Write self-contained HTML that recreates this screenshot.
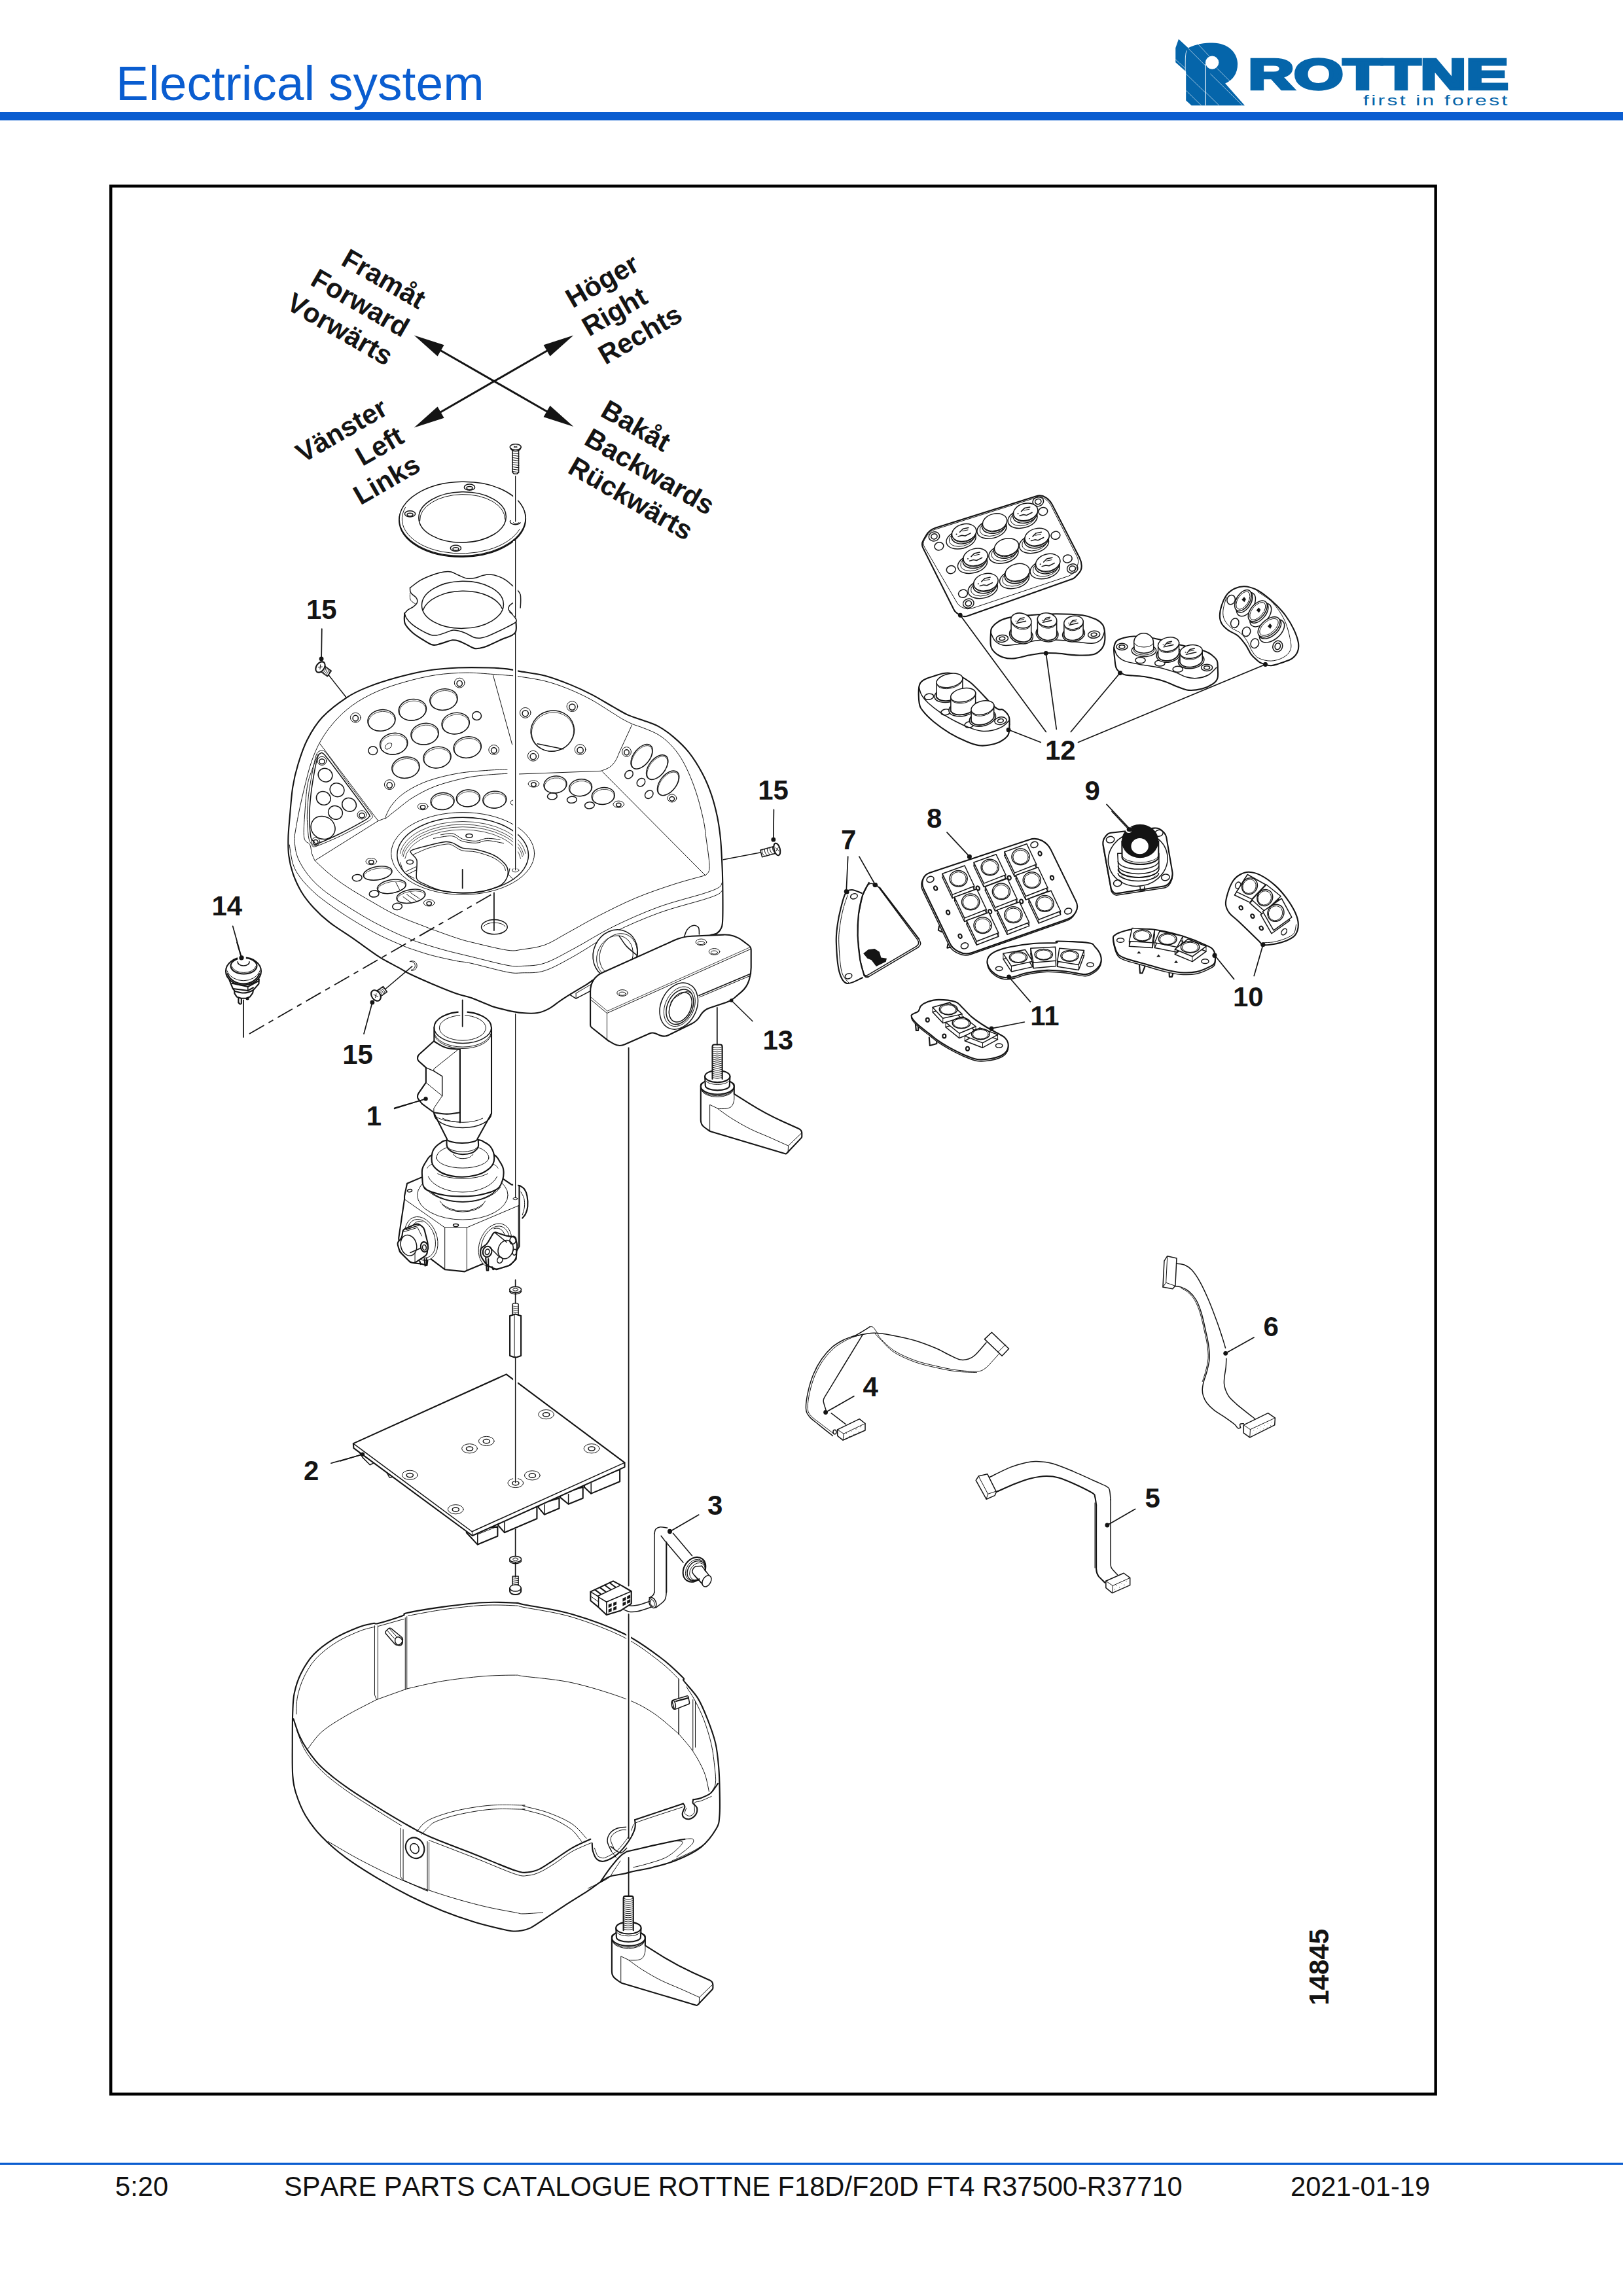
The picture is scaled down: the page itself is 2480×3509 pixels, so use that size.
<!DOCTYPE html>
<html lang="en"><head><meta charset="utf-8"><title>Electrical system - Spare parts catalogue Rottne F18D/F20D</title>
<style>
html,body{margin:0;padding:0;background:#fff}
body{width:2480px;height:3509px;overflow:hidden;font-family:"Liberation Sans",sans-serif}
svg{display:block}
svg text{font-family:"Liberation Sans",sans-serif}
.k,.m,.t,.h{fill:none;stroke:#141414;stroke-linecap:round;stroke-linejoin:round;vector-effect:non-scaling-stroke}
.k{stroke-width:2.1}
.m{stroke-width:1.5}
.t{stroke-width:1}
.h{stroke-width:0.8}
.w{fill:#fff}
.f{fill:#141414;stroke:none}
.lb{font-weight:bold;font-size:42px;fill:#141414}
.dir{font-weight:bold;font-size:41.67px;fill:#141414;font-kerning:none}
.ft{font-size:41.67px;fill:#111;font-kerning:none}
</style></head><body>
<svg width="2480" height="3509" viewBox="0 0 2480 3509">
<!-- header -->
<rect x="0" y="171" width="2480" height="13" fill="#0a5dd0"/>
<text x="177" y="153" font-size="75" fill="#0a5dd0">Electrical system</text>
<!-- frame -->
<rect x="169.3" y="284.4" width="2024.4" height="2916" fill="none" stroke="#000" stroke-width="4.4"/>
<!-- footer -->
<rect x="0" y="3305.5" width="2480" height="3.3" fill="#0a5dd0"/>
<text class="ft" x="176" y="3355.6">5:20</text>
<text class="ft" x="434" y="3355.6">SPARE PARTS CATALOGUE ROTTNE F18D/F20D FT4 R37500-R37710</text>
<text class="ft" x="1972" y="3355.6">2021-01-19</text>

<!-- logo -->
<g transform="translate(1780 40) scale(0.33887)">
<path fill="#0565aa" d="M62,58 L105,98 C140,80 180,75 215,75 C285,75 328,120 328,170 C328,215 305,245 272,258 L360,358 L120,358 L95,335 L95,205 L48,163 L48,98 Z"/>
<circle cx="213" cy="164" r="30" fill="#fff"/>
<rect x="181.5" y="170" width="4" height="188" fill="#fff" opacity="0.85"/>
<path d="M98,110 C92,125 92,140 92,205" stroke="#fff" stroke-width="3" fill="none" opacity="0.8"/>
<g stroke="#fff" stroke-width="2" opacity="0.9" fill="none">
<path d="M105,100 L185,180"/><path d="M150,82 L200,135"/><path d="M235,190 L300,255"/><path d="M205,215 L350,358"/><path d="M95,215 L183,300"/><path d="M95,290 L165,358"/><path d="M48,150 L92,190"/><path d="M186,300 L245,358"/>
</g>
</g>
<text transform="translate(1907.5 135.8) scale(1.487 1)" font-size="65" font-weight="bold" fill="#0565aa" stroke="#0565aa" stroke-width="4.4" stroke-linejoin="miter" style="font-kerning:none">ROTTNE</text>
<text transform="translate(2083 160.6) scale(1.425 1)" font-size="22.5" fill="#0565aa" style="letter-spacing:2.3px">first in forest</text>

<!-- direction arrows -->
<g>
<path class="k" style="stroke-width:3" d="M660,528 L849,636.5 M660,637.5 L849,528.5"/>
<g class="f">
<path transform="translate(632.8 512.5) rotate(29.8)" d="M0,0 L47,-10 L47,10 Z"/>
<path transform="translate(876.3 652) rotate(209.8)" d="M0,0 L47,-10 L47,10 Z"/>
<path transform="translate(632.8 653.5) rotate(-29.8)" d="M0,0 L47,-10 L47,10 Z"/>
<path transform="translate(876.3 512.5) rotate(150.2)" d="M0,0 L47,-10 L47,10 Z"/>
</g>
<g class="dir" transform="translate(614.6 516.5) rotate(30)" text-anchor="end"><text y="-50">Framåt</text><text y="0">Forward</text><text y="50">Vorwärts</text></g>
<g class="dir" transform="translate(900 515) rotate(-30)"><text y="-50">Höger</text><text y="0">Right</text><text y="50">Rechts</text></g>
<g class="dir" transform="translate(620 675.1) rotate(-30)" text-anchor="end"><text y="-50">Vänster</text><text y="0">Left</text><text y="50">Links</text></g>
<g class="dir" transform="translate(890.6 678.1) rotate(30)"><text y="-50">Bakåt</text><text y="0">Backwards</text><text y="50">Rückwärts</text></g>
</g>

<!-- 10_ring -->
<g transform="translate(560 660) scale(0.184843)">
<ellipse class="k w" cx="793" cy="727" rx="522" ry="306" transform="rotate(-1 793 727)"/>
<ellipse class="m w" cx="793" cy="719" rx="522" ry="306" transform="rotate(-1 793 719)"/>
<path class="t" d="M1264.5,807 A500,290 -1 0 1 321.5,625"/>
<ellipse class="m w" cx="793" cy="706" rx="361" ry="209" transform="rotate(-1 793 706)"/>
<path class="t" d="M441.4,735.3 A352,205 -1 1 1 1144.9,723"/>
<ellipse class="m" cx="852" cy="458" rx="44" ry="25"/>
<ellipse class="m" cx="852" cy="464" rx="24" ry="12"/>
<ellipse class="m" cx="360" cy="678" rx="44" ry="25"/>
<ellipse class="m" cx="360" cy="684" rx="24" ry="12"/>
<ellipse class="m" cx="738" cy="962" rx="44" ry="25"/>
<ellipse class="m" cx="738" cy="968" rx="24" ry="12"/>
<path class="m" d="M1271.3,750.6 A44,25 0 0 1 1188.7,733.4"/>
<path class="t" d="M1257.7,749.9 A22,11 0 0 1 1214.3,749.9"/>
<path class="w" d="M315,1500 C315.5,1514.2 307.2,1558.3 318,1585 C328.8,1611.7 356.3,1638.3 380,1660 C403.7,1681.7 433.3,1698.3 460,1715 C486.7,1731.7 518.3,1752.8 540,1760 C561.7,1767.2 571.7,1761.3 590,1758 C608.3,1754.7 630,1746 650,1740 C670,1734 691.7,1724 710,1722 C728.3,1720 741.7,1722.5 760,1728 C778.3,1733.5 798.3,1744.7 820,1755 C841.7,1765.3 870,1784.5 890,1790 C910,1795.5 921.7,1791.3 940,1788 C958.3,1784.7 970,1782.2 1000,1770 C1030,1757.8 1081.7,1733.3 1120,1715 C1158.3,1696.7 1211.3,1689.2 1230,1660 C1248.7,1630.8 1231.7,1560 1232,1540 L1272,1455 L1275,1345 L360,1290 Z" stroke="none"/>
<path class="k" d="M315,1500 C315.5,1514.2 307.2,1558.3 318,1585 C328.8,1611.7 356.3,1638.3 380,1660 C403.7,1681.7 433.3,1698.3 460,1715 C486.7,1731.7 518.3,1752.8 540,1760 C561.7,1767.2 571.7,1761.3 590,1758 C608.3,1754.7 630,1746 650,1740 C670,1734 691.7,1724 710,1722 C728.3,1720 741.7,1722.5 760,1728 C778.3,1733.5 798.3,1744.7 820,1755 C841.7,1765.3 870,1784.5 890,1790 C910,1795.5 921.7,1791.3 940,1788 C958.3,1784.7 970,1782.2 1000,1770 C1030,1757.8 1081.7,1733.3 1120,1715 C1158.3,1696.7 1211.3,1689.2 1230,1660 C1248.7,1630.8 1231.7,1560 1232,1540"/>
<path class="w" d="M360,1290 C375,1279.2 416.7,1243.7 450,1225 C483.3,1206.3 528.3,1189.2 560,1178 C591.7,1166.8 616.7,1161.3 640,1158 C663.3,1154.7 680,1153.5 700,1158 C720,1162.5 738.3,1176 760,1185 C781.7,1194 806.7,1208.2 830,1212 C853.3,1215.8 878.3,1212 900,1208 C921.7,1204 940,1192.7 960,1188 C980,1183.3 998.3,1178.8 1020,1180 C1041.7,1181.2 1068.3,1187.5 1090,1195 C1111.7,1202.5 1131.7,1213.3 1150,1225 C1168.3,1236.7 1183.3,1250.8 1200,1265 C1216.7,1279.2 1238,1296.7 1250,1310 C1262,1323.3 1267.8,1330 1272,1345 C1276.2,1360 1275,1381.7 1275,1400 C1275,1418.3 1272.5,1445.8 1272,1455 L1232,1540 L1232,1540 C1232,1545.8 1250.7,1559.2 1232,1575 C1213.3,1590.8 1158.7,1615.8 1120,1635 C1081.3,1654.2 1030,1678.3 1000,1690 C970,1701.7 958.3,1703.3 940,1705 C921.7,1706.7 910,1706.7 890,1700 C870,1693.3 841.7,1674.2 820,1665 C798.3,1655.8 778.3,1649.2 760,1645 C741.7,1640.8 730,1636.7 710,1640 C690,1643.3 661.7,1658 640,1665 C618.3,1672 598.3,1679.8 580,1682 C561.7,1684.2 551.7,1685 530,1678 C508.3,1671 475.8,1654.7 450,1640 C424.2,1625.3 395,1606.7 375,1590 C355,1573.3 340,1555 330,1540 C320,1525 317.5,1506.7 315,1500 L315,1500 C320,1495 333.3,1478.7 345,1470 C356.7,1461.3 373.3,1456.3 385,1448 C396.7,1439.7 409.2,1429.7 415,1420 C420.8,1410.3 421.7,1399.2 420,1390 C418.3,1380.8 412.5,1373.3 405,1365 C397.5,1356.7 382.2,1347.5 375,1340 C367.8,1332.5 364.5,1328.3 362,1320 C359.5,1311.7 360.3,1295 360,1290 Z" stroke="none"/>
<path class="m" d="M360,1290 C375,1279.2 416.7,1243.7 450,1225 C483.3,1206.3 528.3,1189.2 560,1178 C591.7,1166.8 616.7,1161.3 640,1158 C663.3,1154.7 680,1153.5 700,1158 C720,1162.5 738.3,1176 760,1185 C781.7,1194 806.7,1208.2 830,1212 C853.3,1215.8 878.3,1212 900,1208 C921.7,1204 940,1192.7 960,1188 C980,1183.3 998.3,1178.8 1020,1180 C1041.7,1181.2 1068.3,1187.5 1090,1195 C1111.7,1202.5 1131.7,1213.3 1150,1225 C1168.3,1236.7 1183.3,1250.8 1200,1265 C1216.7,1279.2 1238,1296.7 1250,1310 C1262,1323.3 1267.8,1330 1272,1345 C1276.2,1360 1275,1381.7 1275,1400 C1275,1418.3 1272.5,1445.8 1272,1455"/>
<path class="m" d="M1232,1540 C1232,1545.8 1250.7,1559.2 1232,1575 C1213.3,1590.8 1158.7,1615.8 1120,1635 C1081.3,1654.2 1030,1678.3 1000,1690 C970,1701.7 958.3,1703.3 940,1705 C921.7,1706.7 910,1706.7 890,1700 C870,1693.3 841.7,1674.2 820,1665 C798.3,1655.8 778.3,1649.2 760,1645 C741.7,1640.8 730,1636.7 710,1640 C690,1643.3 661.7,1658 640,1665 C618.3,1672 598.3,1679.8 580,1682 C561.7,1684.2 551.7,1685 530,1678 C508.3,1671 475.8,1654.7 450,1640 C424.2,1625.3 395,1606.7 375,1590 C355,1573.3 340,1555 330,1540 C320,1525 317.5,1506.7 315,1500"/>
<path class="m" d="M315,1500 C320,1495 333.3,1478.7 345,1470 C356.7,1461.3 373.3,1456.3 385,1448 C396.7,1439.7 409.2,1429.7 415,1420 C420.8,1410.3 421.7,1399.2 420,1390 C418.3,1380.8 412.5,1373.3 405,1365 C397.5,1356.7 382.2,1347.5 375,1340 C367.8,1332.5 364.5,1328.3 362,1320 C359.5,1311.7 360.3,1295 360,1290"/>
<path class="t" d="M360,1335 C360.3,1343.3 357.8,1372.5 362,1385 C366.2,1397.5 377.3,1403.3 385,1410 C392.7,1416.7 404.2,1422.5 408,1425"/>
<path class="m" d="M1210,1415 C1205,1419.2 1185.8,1430.8 1180,1440 C1174.2,1449.2 1171.7,1460 1175,1470 C1178.3,1480 1190.5,1488.3 1200,1500 C1209.5,1511.7 1226.7,1533.3 1232,1540"/>
<path class="t" d="M1180,1490 L1200,1505"/>
<ellipse class="m w" cx="795" cy="1430" rx="338" ry="195" transform="rotate(-1 795 1430)"/>
<path class="m" d="M466.9,1473.6 A336,196 -1 0 1 1121.6,1462.2"/>
<g>
<path class="m w" d="M1207,150 L1207,335 L1220,347 L1245,347 L1258,335 L1258,150"/>
<path class="t" d="M1205,175 L1260,183"/>
<path class="t" d="M1205,194 L1260,202"/>
<path class="t" d="M1205,213 L1260,221"/>
<path class="t" d="M1205,232 L1260,240"/>
<path class="t" d="M1205,251 L1260,259"/>
<path class="t" d="M1205,270 L1260,278"/>
<path class="t" d="M1205,289 L1260,297"/>
<path class="t" d="M1205,308 L1260,316"/>
<path class="t" d="M1205,327 L1260,335"/>
<path class="m w" d="M1187,127 C1189.2,130.8 1192.5,144.5 1200,150 C1207.5,155.5 1221.2,160 1232,160 C1242.8,160 1257.3,155.5 1265,150 C1272.7,144.5 1275.8,130.8 1278,127"/>
<ellipse class="m w" cx="1232" cy="125" rx="46" ry="24"/>
<path class="t" d="M1218,118 L1246,132"/>
<path class="t" d="M1246,118 L1218,132"/>
</g>
</g>

<!-- 20_console -->
<g transform="translate(400 960) scale(0.462107)">
<path class="k w" d="M87.5,692.5 C88,671.2 90,652.9 92.5,625 C95,597.1 97.9,554.2 102.5,525 C107.1,495.8 112.1,475.8 120,450 C127.9,424.2 136.7,395.8 150,370 C163.3,344.2 178.3,318.3 200,295 C221.7,271.7 255,246.7 280,230 C305,213.3 321.7,206.2 350,195 C378.3,183.8 416.7,171.7 450,162.5 C483.3,153.3 516.7,145.2 550,140 C583.3,134.8 616.7,132.5 650,131 C683.3,129.5 723.1,130.3 750,131 C776.9,131.7 794.6,133.1 811.5,135 C828.4,136.9 830.7,138.8 851.5,142.5 C872.3,146.2 908.2,150 936.5,157.5 C964.8,165 995.7,177.1 1021.5,187.5 C1047.3,197.9 1068.2,207.9 1091.5,220 C1114.8,232.1 1141.5,248.8 1161.5,260 C1181.5,271.2 1194.8,280 1211.5,287.5 C1228.2,295 1244.8,298.8 1261.5,305 C1278.2,311.2 1294.8,315.8 1311.5,325 C1328.2,334.2 1344.8,345.8 1361.5,360 C1378.2,374.2 1395.7,390 1411.5,410 C1427.3,430 1444,456.7 1456.5,480 C1469,503.3 1478.2,525.8 1486.5,550 C1494.8,574.2 1501.5,601.2 1506.5,625 C1511.5,648.8 1514,668.8 1516.5,692.5 C1519,716.2 1520.2,742.5 1521.5,767.5 C1522.8,792.5 1523.6,810 1524,842.5 C1524.4,875 1524.8,937.5 1524,962.5 C1523.2,987.5 1522.3,984.6 1519,992.5 C1515.7,1000.4 1510.2,1006 1504,1010 C1497.8,1014 1488.6,1011.1 1481.5,1016.5 C1474.4,1021.9 1498.2,1021.5 1461.5,1042.5 C1424.8,1063.5 1311.5,1121.7 1261.5,1142.5 C1211.5,1163.3 1186.5,1165 1161.5,1167.5 C1136.5,1170 1126.5,1155.4 1111.5,1157.5 C1096.5,1159.6 1086.5,1171.2 1071.5,1180 C1056.5,1188.8 1035.7,1201.2 1021.5,1210 C1007.3,1218.8 998.2,1224.6 986.5,1232.5 C974.8,1240.4 964,1250.8 951.5,1257.5 C939,1264.2 926.5,1270 911.5,1272.5 C896.5,1275 878.2,1273.9 861.5,1272.5 C844.8,1271.1 828.4,1267.8 811.5,1264 C794.6,1260.2 779.8,1256.9 760,1250 C740.2,1243.1 711.9,1229.4 692.5,1222.5 C673,1215.6 664.8,1216.2 643.3,1208.5 C621.7,1200.8 589.3,1187.5 563.3,1176.5 C537.3,1165.5 504.6,1150.8 487.3,1142.5 C469.9,1134.2 473.3,1134.2 459.3,1126.5 C445.3,1118.8 417.3,1104.5 403.3,1096.5 C389.3,1088.5 392.6,1090.5 375.3,1078.5 C357.9,1066.5 324.6,1042.2 299.3,1024.5 C273.9,1006.8 244.6,989.2 223.3,972.5 C201.9,955.8 186.6,941.2 171.3,924.5 C155.9,907.8 142.6,891.2 131.3,872.5 C119.9,853.8 110.3,832.5 103.3,812.5 C96.3,792.5 91.9,772.5 89.3,752.5 C86.7,732.5 87,713.8 87.5,692.5 Z"/>
<path class="t" d="M107.5,692.5 C110,678.8 116.6,638.8 122.5,610 C128.4,581.2 135.9,547.8 143,519.5 C150.1,491.2 156.3,464.5 165,440 C173.7,415.5 182.5,394.2 195,372.5 C207.5,350.8 222.5,329.6 240,310 C257.5,290.4 276.7,271.7 300,255 C323.3,238.3 350.8,222.9 380,210 C409.2,197.1 442.5,186.7 475,177.5 C507.5,168.3 541.7,160 575,155 C608.3,150 643.3,147.9 675,147.5 C706.7,147.1 742.2,151.1 765,152.5 C787.8,153.9 797.1,154.8 811.5,156 C825.9,157.2 830.7,156.8 851.5,160 C872.3,163.2 909.8,168.3 936.5,175 C963.2,181.7 986.5,190 1011.5,200 C1036.5,210 1063.2,222.5 1086.5,235 C1109.8,247.5 1134,264.2 1151.5,275 C1169,285.8 1179,292.9 1191.5,300 C1204,307.1 1214.8,312.5 1226.5,317.5 C1238.2,322.5 1247.3,324.2 1261.5,330 C1275.7,335.8 1296.5,343.3 1311.5,352.5 C1326.5,361.7 1339,372.1 1351.5,385 C1364,397.9 1375.7,412.5 1386.5,430 C1397.3,447.5 1407.3,468.3 1416.5,490 C1425.7,511.7 1434,535 1441.5,560 C1449,585 1456.9,617.9 1461.5,640 C1466.1,662.1 1466.1,671.2 1469,692.5 C1471.9,713.8 1477.3,749.2 1479,767.5 C1480.7,785.8 1481.1,794.2 1479,802.5 C1476.9,810.8 1468.6,815 1466.5,817.5"/>
<path class="t" d="M1466.5,817.5 C1449,822.5 1399.8,835 1361.5,847.5 C1323.2,860 1278.2,875 1236.5,892.5 C1194.8,910 1149,933.3 1111.5,952.5 C1074,971.7 1040.7,991.7 1011.5,1007.5 C982.3,1023.3 961.5,1038.3 936.5,1047.5 C911.5,1056.7 882.3,1059.6 861.5,1062.5 C840.7,1065.4 839.7,1069 811.5,1065 C783.3,1061 720.5,1045.2 692.5,1038.5 C664.4,1031.8 662.8,1030.8 643.3,1024.5 C623.7,1018.2 591.9,1006.5 575.3,1000.5 C558.6,994.5 565.3,997.2 543.3,988.5 C521.3,979.8 473.3,962.5 443.3,948.5 C413.3,934.5 389.9,919.8 363.3,904.5 C336.6,889.2 306.6,871.8 283.3,856.5 C259.9,841.2 241.3,827.2 223.3,812.5 C205.3,797.8 183.3,775.8 175.3,768.5"/>
<path class="t" d="M1522,842 C1521.9,842.1 1523.2,839.9 1521.5,842.5 C1519.8,845.1 1521.5,851.7 1511.5,857.5 C1501.5,863.3 1494.8,866.7 1461.5,877.5 C1428.2,888.3 1361.5,904.2 1311.5,922.5 C1261.5,940.8 1207.3,965 1161.5,987.5 C1115.7,1010 1074,1037.5 1036.5,1057.5 C999,1077.5 965.7,1097.5 936.5,1107.5 C907.3,1117.5 882.3,1116.2 861.5,1117.5 C840.7,1118.8 839.7,1120.2 811.5,1115 C783.3,1109.8 727.2,1094.9 692.5,1086.5 C657.8,1078.1 631.5,1072.2 603.3,1064.5 C575.1,1056.8 541.9,1046.5 523.3,1040.5 C504.6,1034.5 504.6,1033.8 491.3,1028.5 C477.9,1023.2 464.6,1018.5 443.3,1008.5 C421.9,998.5 389.9,983.2 363.3,968.5 C336.6,953.8 308.6,936.5 283.3,920.5 C257.9,904.5 231.3,887.8 211.3,872.5 C191.3,857.2 176.9,843.8 163.3,828.5 C149.6,813.2 137.6,795.2 129.3,780.5 C120.9,765.8 116.9,755.2 113.3,740.5 C109.6,725.8 108.3,700.5 107.3,692.5"/>
<path class="t" d="M1522,868 C1519.8,870 1519.1,875.1 1509,880 C1498.9,884.9 1494.4,887.1 1461.5,897.5 C1428.6,907.9 1361.5,924.2 1311.5,942.5 C1261.5,960.8 1207.3,984.2 1161.5,1007.5 C1115.7,1030.8 1074,1061.7 1036.5,1082.5 C999,1103.3 965.7,1122.9 936.5,1132.5 C907.3,1142.1 882.3,1139.2 861.5,1140 C840.7,1140.8 839.7,1142.8 811.5,1137.5 C783.3,1132.2 720.5,1114.7 692.5,1108.5 C664.4,1102.3 664.8,1104.8 643.3,1100.5 C621.7,1096.2 587.3,1088.8 563.3,1082.5 C539.3,1076.2 515.3,1067.8 499.3,1062.5 C483.3,1057.2 486.6,1058.8 467.3,1050.5 C447.9,1042.2 411.3,1026.8 383.3,1012.5 C355.3,998.2 325.3,980.5 299.3,964.5 C273.3,948.5 248.6,931.8 227.3,916.5 C205.9,901.2 187.9,887.8 171.3,872.5 C154.6,857.2 138.6,839.8 127.3,824.5 C115.9,809.2 109.3,798.5 103.3,780.5 C97.3,762.5 93.3,727.2 91.3,716.5"/>
<path class="t" d="M186,417.5 C182.9,425.4 173.3,448 167.5,465 C161.7,482 155.2,495.3 151,519.5 C146.8,543.7 144.3,581.2 142.5,610 C140.7,638.8 137.2,674.8 140,692.5 C142.8,710.2 155.1,707.8 159.3,716.5 C163.5,725.2 162.6,735.8 165.3,744.5 C167.9,753.2 173.6,764.5 175.3,768.5"/>
<path class="t" d="M192.5,382.5 L385,637.5"/>
<path class="t" d="M385,637.5 L177.5,767.5"/>
<path class="t" d="M765,156 L828,385"/>
<path class="t" d="M407.5,627.5 C411.2,620.4 418.8,599.2 430,585 C441.2,570.8 455,555.8 475,542.5 C495,529.2 520.8,515.4 550,505 C579.2,494.6 616.7,485.8 650,480 C683.3,474.2 723.1,472.1 750,470 C776.9,467.9 801.2,467.9 811.5,467.5"/>
<path class="t" d="M407.5,631 C414.6,625.4 434.6,609.3 450,597.5 C465.4,585.7 479.2,572.5 500,560 C520.8,547.5 545.8,533.3 575,522.5 C604.2,511.7 645.8,501.2 675,495 C704.2,488.8 727.2,487.3 750,485 C772.8,482.7 801.2,481.7 811.5,481"/>
<path class="t" d="M385,637.5 L407.5,629"/>
<path class="t" d="M851.5,482.5 L1121.5,472.5"/>
<path class="t" d="M1121.5,472.5 C1126.2,470.4 1141.9,465.8 1150,460 C1158.1,454.2 1164.2,447.2 1170,438 C1175.8,428.8 1176,424.7 1185,405 C1194,385.3 1217.5,334.2 1224,320"/>
<path class="t" d="M1126.5,475 L1466.5,817.5"/>
<path class="t" d="M192.5,406 C196.8,405 200.8,399.3 212.5,412.5 C224.2,425.7 260.2,478.3 280,505 C299.8,531.7 350,596 361,612.5 C372,629 364.6,625 362.5,629 C360.4,633 358.7,634.7 345,642.5 C331.3,650.3 282.3,676.9 260,687.5 C237.7,698.1 190.7,718.3 178,722 C165.3,725.7 168.1,718.9 165,715 C161.9,711.1 157,704.5 155,692.5 C153,680.5 150,644 150,625 C150,606 152.7,570 155,550 C157.3,530 164.2,492.3 167.5,475 C170.8,457.7 176.7,429.2 180,420 C183.3,410.8 188.2,407 192.5,406 Z"/>
<path class="m" d="M192.5,415 C195.5,414.1 196.5,406.7 207.5,419 C218.5,431.3 255.7,481.7 275,507.5 C294.3,533.3 342,596.8 352.5,612.5 C363,628.2 355.2,621.9 353.5,625 C351.8,628.1 352.5,628.8 340,636 C327.5,643.2 280.7,668.9 260,679 C239.3,689.1 196.7,708.5 185,712 C173.3,715.5 175,707.6 172,705 C169,702.4 164.4,703.2 162.5,692.5 C160.6,681.8 157.5,644 157.5,625 C157.5,606 160.3,570 162.5,550 C164.7,530 171,491.5 174,475 C177,458.5 182.5,434 185,426 C187.5,418 189.5,415.9 192.5,415 Z"/>
<ellipse class="m" cx="210" cy="486" rx="24" ry="22" transform="rotate(30 210 486)"/>
<ellipse class="m" cx="249" cy="535" rx="24" ry="22" transform="rotate(30 249 535)"/>
<ellipse class="m" cx="204" cy="562.5" rx="24" ry="22" transform="rotate(30 204 562.5)"/>
<ellipse class="m" cx="289" cy="584" rx="24" ry="22" transform="rotate(30 289 584)"/>
<ellipse class="m" cx="243.5" cy="610" rx="24" ry="22" transform="rotate(30 243.5 610)"/>
<ellipse class="m" cx="202.5" cy="660" rx="41" ry="37" transform="rotate(30 202.5 660)"/>
<ellipse class="t" cx="199" cy="439" rx="15" ry="14.2"/>
<ellipse class="m" cx="199" cy="441" rx="9" ry="8.2"/>
<ellipse class="t" cx="331" cy="617.5" rx="15" ry="14.2"/>
<ellipse class="m" cx="331" cy="619.5" rx="9" ry="8.2"/>
<ellipse class="t" cx="178" cy="706" rx="14" ry="13.3"/>
<ellipse class="m" cx="178" cy="708" rx="8" ry="7.7"/>
<ellipse class="m" cx="396" cy="305" rx="46" ry="35" transform="rotate(-10 396 305)"/>
<ellipse class="h" cx="396.5" cy="308" rx="44" ry="32" transform="rotate(-10 396.5 308)"/>
<ellipse class="m" cx="498.5" cy="270" rx="46" ry="35" transform="rotate(-10 498.5 270)"/>
<ellipse class="h" cx="499" cy="273" rx="44" ry="32" transform="rotate(-10 499 273)"/>
<ellipse class="m" cx="601.5" cy="236" rx="46" ry="35" transform="rotate(-10 601.5 236)"/>
<ellipse class="h" cx="602" cy="239" rx="44" ry="32" transform="rotate(-10 602 239)"/>
<ellipse class="m" cx="539" cy="350" rx="46" ry="35" transform="rotate(-10 539 350)"/>
<ellipse class="h" cx="539.5" cy="353" rx="44" ry="32" transform="rotate(-10 539.5 353)"/>
<ellipse class="m" cx="641" cy="315" rx="46" ry="35" transform="rotate(-10 641 315)"/>
<ellipse class="h" cx="641.5" cy="318" rx="44" ry="32" transform="rotate(-10 641.5 318)"/>
<ellipse class="m" cx="436.5" cy="382.5" rx="46" ry="35" transform="rotate(-10 436.5 382.5)"/>
<ellipse class="h" cx="437" cy="385.5" rx="44" ry="32" transform="rotate(-10 437 385.5)"/>
<ellipse class="m" cx="580" cy="427.5" rx="46" ry="35" transform="rotate(-10 580 427.5)"/>
<ellipse class="h" cx="580.5" cy="430.5" rx="44" ry="32" transform="rotate(-10 580.5 430.5)"/>
<ellipse class="m" cx="680" cy="394" rx="46" ry="35" transform="rotate(-10 680 394)"/>
<ellipse class="h" cx="680.5" cy="397" rx="44" ry="32" transform="rotate(-10 680.5 397)"/>
<ellipse class="m" cx="476" cy="461" rx="46" ry="35" transform="rotate(-10 476 461)"/>
<ellipse class="h" cx="476.5" cy="464" rx="44" ry="32" transform="rotate(-10 476.5 464)"/>
<ellipse class="t" cx="419" cy="390" rx="13" ry="8" transform="rotate(-40 419 390)"/>
<ellipse class="m" cx="711" cy="290" rx="15" ry="14"/>
<ellipse class="m" cx="367.5" cy="405" rx="15" ry="14"/>
<ellipse class="t" cx="654" cy="181" rx="17" ry="16.1"/>
<ellipse class="m" cx="654" cy="183" rx="9" ry="9.4"/>
<ellipse class="t" cx="310" cy="296" rx="17" ry="16.1"/>
<ellipse class="m" cx="310" cy="298" rx="9" ry="9.4"/>
<ellipse class="t" cx="767.5" cy="402.5" rx="17" ry="16.1"/>
<ellipse class="m" cx="767.5" cy="404.5" rx="9" ry="9.4"/>
<ellipse class="t" cx="422.5" cy="517.5" rx="17" ry="16.1"/>
<ellipse class="m" cx="422.5" cy="519.5" rx="9" ry="9.4"/>
<ellipse class="m" cx="597.5" cy="572.5" rx="39" ry="28" transform="rotate(-5 597.5 572.5)"/>
<ellipse class="h" cx="598" cy="575.5" rx="37" ry="25" transform="rotate(-5 598 575.5)"/>
<ellipse class="m" cx="682.5" cy="562.5" rx="39" ry="28" transform="rotate(-5 682.5 562.5)"/>
<ellipse class="h" cx="683" cy="565.5" rx="37" ry="25" transform="rotate(-5 683 565.5)"/>
<ellipse class="m" cx="770" cy="567.5" rx="39" ry="28" transform="rotate(-5 770 567.5)"/>
<ellipse class="h" cx="770.5" cy="570.5" rx="37" ry="25" transform="rotate(-5 770.5 570.5)"/>
<ellipse class="t" cx="532.5" cy="590" rx="17" ry="11"/>
<ellipse class="m" cx="532.5" cy="592" rx="8" ry="6.1"/>
<path class="t" d="M832,585 A10,8 0 0 1 832,569"/>
<ellipse class="m" cx="961.5" cy="340" rx="72" ry="67" transform="rotate(-15 961.5 340)"/>
<ellipse class="h" cx="962" cy="343" rx="70" ry="64" transform="rotate(-15 962 343)"/>
<path class="m" d="M911.5,382.5 L996.5,400"/>
<ellipse class="t" cx="871.5" cy="280" rx="18" ry="17.1"/>
<ellipse class="m" cx="871.5" cy="282" rx="10" ry="9.9"/>
<ellipse class="t" cx="1026.5" cy="259" rx="18" ry="17.1"/>
<ellipse class="m" cx="1026.5" cy="261" rx="10" ry="9.9"/>
<ellipse class="t" cx="897.5" cy="422.5" rx="18" ry="17.1"/>
<ellipse class="m" cx="897.5" cy="424.5" rx="10" ry="9.9"/>
<ellipse class="t" cx="1053" cy="401.5" rx="18" ry="17.1"/>
<ellipse class="m" cx="1053" cy="403.5" rx="10" ry="9.9"/>
<ellipse class="m" cx="970.5" cy="517.5" rx="38" ry="28" transform="rotate(-8 970.5 517.5)"/>
<ellipse class="h" cx="971" cy="520.5" rx="36" ry="25" transform="rotate(-8 971 520.5)"/>
<ellipse class="m" cx="1054" cy="527.5" rx="38" ry="28" transform="rotate(-8 1054 527.5)"/>
<ellipse class="h" cx="1054.5" cy="530.5" rx="36" ry="25" transform="rotate(-8 1054.5 530.5)"/>
<ellipse class="m" cx="1129" cy="555" rx="38" ry="28" transform="rotate(-8 1129 555)"/>
<ellipse class="h" cx="1129.5" cy="558" rx="36" ry="25" transform="rotate(-8 1129.5 558)"/>
<ellipse class="m" cx="960.5" cy="556" rx="16" ry="11" transform="rotate(-5 960.5 556)"/>
<ellipse class="m" cx="1025.5" cy="567.5" rx="16" ry="11" transform="rotate(-5 1025.5 567.5)"/>
<ellipse class="m" cx="1084" cy="586" rx="16" ry="11" transform="rotate(-5 1084 586)"/>
<ellipse class="t" cx="899" cy="515" rx="18" ry="11"/>
<ellipse class="m" cx="899" cy="517" rx="8" ry="6.1"/>
<ellipse class="t" cx="1180" cy="582.5" rx="18" ry="11"/>
<ellipse class="m" cx="1180" cy="584.5" rx="8" ry="6.1"/>
<ellipse class="m" cx="1256.5" cy="425" rx="47" ry="27" transform="rotate(-52 1256.5 425)"/>
<ellipse class="h" cx="1257" cy="427" rx="45" ry="25" transform="rotate(-52 1257 427)"/>
<ellipse class="m" cx="1307.5" cy="460" rx="47" ry="27" transform="rotate(-52 1307.5 460)"/>
<ellipse class="h" cx="1308" cy="462" rx="45" ry="25" transform="rotate(-52 1308 462)"/>
<ellipse class="m" cx="1344" cy="512.5" rx="47" ry="27" transform="rotate(-52 1344 512.5)"/>
<ellipse class="h" cx="1344.5" cy="514.5" rx="45" ry="25" transform="rotate(-52 1344.5 514.5)"/>
<ellipse class="m" cx="1214" cy="484" rx="15" ry="12" transform="rotate(-45 1214 484)"/>
<ellipse class="m" cx="1254" cy="510" rx="15" ry="12" transform="rotate(-45 1254 510)"/>
<ellipse class="m" cx="1280.5" cy="550" rx="15" ry="12" transform="rotate(-45 1280.5 550)"/>
<ellipse class="t" cx="1206.5" cy="409" rx="15" ry="16"/>
<ellipse class="m" cx="1206.5" cy="411" rx="8" ry="8.8"/>
<ellipse class="t" cx="1356.5" cy="562.5" rx="15" ry="13"/>
<ellipse class="m" cx="1356.5" cy="564.5" rx="8" ry="7.2"/>
<ellipse class="m" cx="383.3" cy="810.5" rx="48" ry="22" transform="rotate(-10 383.28 810.5)"/>
<ellipse class="h" cx="383.8" cy="813.5" rx="46" ry="19" transform="rotate(-10 383.78 813.5)"/>
<ellipse class="m" cx="429.3" cy="854.5" rx="48" ry="22" transform="rotate(-10 429.28 854.5)"/>
<ellipse class="h" cx="429.8" cy="857.5" rx="46" ry="19" transform="rotate(-10 429.78 857.5)"/>
<ellipse class="m" cx="493.3" cy="886.5" rx="48" ry="22" transform="rotate(-10 493.28 886.5)"/>
<ellipse class="h" cx="493.8" cy="889.5" rx="46" ry="19" transform="rotate(-10 493.78 889.5)"/>
<ellipse class="m" cx="315.3" cy="825.7" rx="16" ry="11" transform="rotate(-5 315.28 825.7)"/>
<ellipse class="m" cx="371.3" cy="878.5" rx="16" ry="11" transform="rotate(-5 371.28 878.5)"/>
<ellipse class="m" cx="448.1" cy="920.5" rx="16" ry="11" transform="rotate(-5 448.08 920.5)"/>
<ellipse class="t" cx="362.1" cy="771.7" rx="18" ry="11"/>
<ellipse class="m" cx="362.1" cy="773.7" rx="8" ry="6.1"/>
<ellipse class="t" cx="553.3" cy="908.5" rx="18" ry="11"/>
<ellipse class="m" cx="553.3" cy="910.5" rx="8" ry="6.1"/>
<path class="t" d="M443.3,840.5 L455.3,864.5"/>
<path class="t" d="M467.3,888.5 L495.3,908.5"/>
<path class="t" d="M479.3,880.5 L511.3,902.5"/>
<path class="t" d="M491.3,874.5 L521.3,894.5"/>
<ellipse class="t w" cx="664.7" cy="745.4" rx="236.8" ry="136"/>
<ellipse class="m" cx="664.7" cy="750.6" rx="217.2" ry="124.8"/>
<path class="h" d="M457.5,745.3 A208,116 0 0 1 871.9,745.3"/>
<path class="h" d="M463.5,751.2 A202,112 0 0 1 865.9,751.2"/>
<path class="h" d="M467.5,756.3 A198,108.8 0 0 1 861.9,756.3"/>
<path class="h" d="M473.4,762.3 A192,104.8 0 0 1 856,762.3"/>
<path class="m" d="M491.9,737.4 C496.6,731 532.4,723.5 547.9,719.4 C563.4,715.3 596.7,707.8 607.9,706.6 C619.1,705.4 624.4,707.8 631.9,710.6 C639.4,713.4 653.8,724.5 663.9,727.4 C674,730.3 694,729 707.9,732.2 C721.8,735.4 755.1,745.1 767.9,751.4 C780.7,757.7 797.8,772.7 803.9,779.4 C810,786.1 813.1,795 813.9,801.4 C814.7,807.8 813.4,820.7 809.9,827.4 C806.4,834.1 798.8,845.5 787.9,851.4 C777,857.3 744.3,868.1 727.9,871.4 C711.5,874.7 682.8,876.7 664.7,876.2 C646.6,875.7 609.1,871.5 591.9,867.4 C574.7,863.3 546.6,850.7 535.9,845.4 C525.2,840.1 515,837.8 511.9,827.4 C508.8,817 515.4,779.4 512.7,767.4 C510,755.4 487.2,743.8 491.9,737.4 Z"/>
<path class="t" d="M499.9,749.4 C508.6,745.7 533.9,733.2 551.9,727.4 C569.9,721.6 594.9,716.2 607.9,714.6 C620.9,713 620.9,714.3 629.9,717.8 C638.9,721.3 648.9,731.7 661.9,735.4 C674.9,739.1 690.9,736.3 707.9,740.2 C724.9,744.1 748.9,751.4 763.9,758.6 C778.9,765.8 790.9,776.3 797.9,783.4 C804.9,790.5 804.6,798.4 805.9,801.4"/>
<path class="t" d="M591.9,683.4 C598.6,682.7 619.9,677.1 631.9,679.4 C643.9,681.7 651.2,693.3 663.9,697.4 C676.6,701.5 694.6,704.5 707.9,704.2 C721.2,703.9 730.6,696.2 743.9,695.4 C757.2,694.6 780.6,698.7 787.9,699.4"/>
<path class="t" d="M567.9,695.4 C577.9,694.1 612.2,685.9 627.9,687.4 C643.6,688.9 648.6,700.3 661.9,704.2 C675.2,708.1 693.9,710.9 707.9,710.6 C721.9,710.3 730.6,702.5 745.9,702.6 C761.2,702.7 790.9,709.9 799.9,711.4"/>
<path class="t" d="M457.9,775.4 C460.2,780.7 464.2,798.7 471.9,807.4 C479.6,816.1 498.6,824.1 503.9,827.4"/>
<path class="t" d="M479.9,815.4 L511.9,799.4"/>
<path class="t" d="M475.9,805.4 L509.9,789.4"/>
<ellipse class="m" cx="685.9" cy="686.6" rx="11" ry="6"/>
<ellipse class="m" cx="489.9" cy="773.4" rx="11" ry="7"/>
<ellipse class="t" cx="839.1" cy="800.6" rx="11" ry="6"/>
<path class="t" d="M815.9,815.4 L831.9,831.4"/>
<path class="t" d="M819.9,795.4 L815.9,815.4"/>
<ellipse class="m" cx="769.1" cy="988.2" rx="43" ry="24"/>
<path class="t" d="M733.4,986.7 A38,19 0 0 1 804.8,986.7"/>
<path class="t" d="M489.3,1102.6 A16,16 0 1 1 494.5,1132.3"/>
<path class="t" d="M492,1102.7 A13,14 0 1 1 494.3,1130.5"/>
<ellipse class="m w" cx="1169" cy="1077.5" rx="72" ry="82" transform="rotate(25 1169 1077.5)"/>
<ellipse class="t" cx="1167.5" cy="1085" rx="58" ry="70" transform="rotate(25 1167.5 1085)"/>
<ellipse class="t" cx="1179" cy="1080" rx="60" ry="72" transform="rotate(25 1179 1080)"/>
<path class="m" d="M1181.5,1017.5 C1185.7,1023.3 1196.5,1041.7 1206.5,1052.5 C1216.5,1063.3 1235.7,1077.5 1241.5,1082.5"/>
<path class="m" d="M1396.5,1022.5 C1398.2,1018.3 1401.5,1004 1406.5,997.5 C1411.5,991 1420.2,984.8 1426.5,983.5 C1432.8,982.2 1440.7,985.2 1444,990 C1447.3,994.8 1446.1,1008.8 1446.5,1012.5"/>
<path class="m" d="M1019,1212.5 L1039,1225 L1091.5,1197.5"/>
<path class="t" d="M1039,1225 L1039,1207.5"/>
<path class="t" d="M1039,1207.5 L1111.5,1165"/>
</g>

<!-- 22_block13 -->
<g transform="translate(775 1280) scale(0.231054)">
<path class="k w" d="M550,1020 Q550,930 632,893 L1105.3,679.7 Q1160,655 1219.9,652.4 L1429.4,643.1 Q1500,640 1556.5,682.5 L1597,713 Q1613,725 1613,745 L1613,860 Q1613,900 1601.1,938.2 L1599,945 Q1585,990 1549.2,1020.7 L1502.8,1060.5 Q1480,1080 1451.5,1089.5 L1337.9,1127.4 Q1300,1140 1279.4,1174.3 L1275.6,1180.7 Q1255,1215 1219.1,1232.6 L1067,1306.8 Q1040,1320 1012.1,1308.9 L978.6,1295.4 Q960,1288 941.7,1296.1 L776.9,1368.7 Q740,1385 705,1365 L678.7,1350 Q670,1345 662.2,1338.8 L557.8,1256.2 Q550,1250 550,1240 Z"/>
<path class="t" d="M552,1072 L660,1162 L1612,737"/>
<path class="h" d="M556,1058 L662,1148 L1608,725"/>
<path class="t" d="M660,1162 L660,1340"/>
<path class="m" d="M1268,1045 L1612,900"/>
<path class="t" d="M1272,1056 L1608,914"/>
<ellipse class="t" cx="1283" cy="692" rx="36" ry="21"/>
<ellipse class="t" cx="1283" cy="697" rx="22" ry="11"/>
<ellipse class="t" cx="1370" cy="755" rx="36" ry="21"/>
<ellipse class="t" cx="1370" cy="760" rx="22" ry="11"/>
<ellipse class="t" cx="762" cy="1028" rx="36" ry="21"/>
<ellipse class="t" cx="762" cy="1033" rx="22" ry="11"/>
<ellipse class="m" cx="1135" cy="1115" rx="118" ry="160" transform="rotate(25 1135 1115)"/>
<ellipse class="t" cx="1140" cy="1118" rx="95" ry="138" transform="rotate(25 1140 1118)"/>
<ellipse class="m" cx="1142" cy="1120" rx="82" ry="122" transform="rotate(25 1142 1120)"/>
<ellipse class="m" cx="1146" cy="1122" rx="68" ry="104" transform="rotate(25 1146 1122)"/>
<path class="t" d="M1080,1090 C1085,1085 1093.3,1071.7 1110,1060 C1126.7,1048.3 1162.5,1025 1180,1020 C1197.5,1015 1209.2,1028.3 1215,1030"/>
<circle class="f" cx="1483" cy="1078" r="12"/>
<path class="m" d="M1483,1078 L1623,1215"/>
</g>

<!-- 30_joystick -->
<g transform="translate(590 1540) scale(0.160197)">
<path class="k w" d="M200,1678 L345,1616 L1120,1636 L1195,1688 L1270,1698 L1270,2278 L1240,2328 L1240,2398 L1180,2458 L1050,2498 L950,2433 L770,2508 L750,2518 L560,2498 L400,2378 L390,2458 L330,2443 L270,2438 L230,2428 L130,2328 L120,2198 L175,1828 L175,1798 Z"/>
<path class="k" d="M1275,1698 C1282.5,1703.8 1308.3,1716.3 1320,1733 C1331.7,1749.7 1340,1770.5 1345,1798 C1350,1825.5 1352.5,1869.7 1350,1898 C1347.5,1926.3 1338.3,1949.7 1330,1968 C1321.7,1986.3 1305,2001.3 1300,2008"/>
<path class="t" d="M1285,1758 C1290,1768 1309.2,1794.7 1315,1818 C1320.8,1841.3 1322.5,1871.3 1320,1898 C1317.5,1924.7 1303.3,1964.7 1300,1978"/>
<path class="t" d="M175,1828 L560,2098 L770,2098 L1265,1888"/>
<path class="t" d="M560,2098 L560,2498"/>
<path class="t" d="M770,2098 L770,2508"/>
<path class="t" d="M1262,1888 L1262,2278"/>
<ellipse class="m" cx="225" cy="1746" rx="22" ry="13" transform="rotate(-10 225 1746)"/>
<ellipse class="m" cx="665" cy="2076" rx="25" ry="13"/>
<ellipse class="t" cx="1232" cy="1823" rx="22" ry="10"/>
<ellipse class="t w" cx="730" cy="1788" rx="432" ry="235"/>
<path class="m" d="M1071.6,1693.7 A345,185 0 0 1 388.4,1693.7"/>
<path class="t" d="M946.1,1845.9 A230,140 0 0 1 513.9,1845.9"/>
<path class="t" d="M924.9,1878.7 A215,120 0 0 1 535.1,1878.7"/>
<ellipse class="t w" cx="335" cy="2203" rx="150" ry="215" transform="rotate(-20 335 2203)"/>
<ellipse class="t" cx="335" cy="2203" rx="128" ry="190" transform="rotate(-20 335 2203)"/>
<path class="t" d="M239.2,2166.9 A100,150 -20 0 1 347.6,2043.8"/>
<ellipse class="t w" cx="1040" cy="2268" rx="150" ry="215" transform="rotate(20 1040 2268)"/>
<ellipse class="t" cx="1040" cy="2268" rx="128" ry="190" transform="rotate(20 1040 2268)"/>
<path class="t" d="M1135.8,2231.9 A100,150 20 0 0 1027.4,2108.8"/>
<path class="k w" d="M156.9,2142.8 Q160,2118 183,2108.2 L277,2067.8 Q300,2058 320.8,2071.9 L339.2,2084.1 Q360,2098 366.1,2122.3 L393.9,2233.7 Q400,2258 397.5,2282.9 L392.5,2333.1 Q390,2358 369.2,2371.9 L287.2,2426.6 Q270,2438 250,2433 L250,2433 Q230,2428 215.4,2413.4 L147.7,2345.7 Q130,2328 122.9,2304 L112.1,2267 Q105,2243 122.7,2225.3 L132.3,2215.7 Q150,2198 153.1,2173.2 Z"/>
<ellipse class="m w" cx="215" cy="2268" rx="75" ry="100" transform="rotate(-15 215 2268)"/>
<path class="m" d="M190,2118 L320,2073"/>
<path class="m" d="M230,2338 L345,2288"/>
<path class="t" d="M170,2138 L300,2098 L340,2178"/>
<ellipse class="k w" cx="365" cy="2283" rx="35" ry="48" transform="rotate(-10 365 2283)"/>
<ellipse class="m" cx="365" cy="2288" rx="18" ry="26" transform="rotate(-10 365 2288)"/>
<path class="k" d="M320,2418 L330,2448"/>
<path class="k" d="M365,2398 L372,2463 L385,2458 L385,2393"/>
<path class="t" d="M275,2343 L275,2438"/>
<path class="k w" d="M1017.4,2159.6 Q1030,2138 1053.7,2145.9 L1126.3,2170.1 Q1150,2178 1174.8,2181.1 L1205.2,2184.9 Q1230,2188 1236.9,2212 L1243.1,2234 Q1250,2258 1248.2,2282.9 L1241.8,2373.1 Q1240,2398 1222.3,2415.7 L1197.7,2440.3 Q1180,2458 1156.1,2465.4 L1073.9,2490.6 Q1050,2498 1027.2,2487.8 L982.8,2468.2 Q960,2458 946.1,2437.2 L913.9,2388.8 Q900,2368 900,2343 L900,2323 Q900,2298 920.8,2284.1 L939.2,2271.9 Q960,2258 972.6,2236.4 Z"/>
<ellipse class="m w" cx="1140" cy="2308" rx="70" ry="90" transform="rotate(20 1140 2308)"/>
<ellipse class="k w" cx="965" cy="2328" rx="42" ry="52" transform="rotate(15 965 2328)"/>
<ellipse class="m" cx="965" cy="2330" rx="20" ry="27" transform="rotate(15 965 2330)"/>
<ellipse class="m" cx="1210" cy="2218" rx="30" ry="38" transform="rotate(20 1210 2218)"/>
<ellipse class="m" cx="1085" cy="2408" rx="25" ry="30" transform="rotate(20 1085 2408)"/>
<path class="m" d="M1040,2148 L1150,2238"/>
<path class="m" d="M990,2288 L1080,2378"/>
<path class="m" d="M1150,2178 L1200,2188"/>
<path class="k" d="M950,2388 L960,2508 L975,2508 L975,2398"/>
<path class="k" d="M1010,2473 L1020,2498 L1035,2493"/>
<ellipse class="m" cx="1225" cy="2333" rx="18" ry="28" transform="rotate(10 1225 2333)"/>
<path class="k w" d="M560,1385 C510.8,1390 465,1390.8 435,1405 C405,1419.2 395,1447.5 380,1470 C365,1492.5 350.8,1514.2 345,1540 C339.2,1565.8 343.3,1598.3 345,1625 C346.7,1651.7 345.8,1680 355,1700 C364.2,1720 365.8,1730 400,1745 C434.2,1760 505,1780.8 560,1790 C615,1799.2 673.3,1800.8 730,1800 C786.7,1799.2 845,1796.7 900,1785 C955,1773.3 1024.7,1754.2 1060,1730 C1095.3,1705.8 1102.3,1671.7 1112,1640 C1121.7,1608.3 1122.5,1568.3 1118,1540 C1113.5,1511.7 1099.7,1492.5 1085,1470 C1070.3,1447.5 1060.8,1419.2 1030,1405 C999.2,1390.8 950,1390 900,1385 C850,1380 786.7,1375 730,1375 C673.3,1375 609.2,1380 560,1385 Z"/>
<path class="t" d="M1058.4,1611.8 A340,200 0 0 1 401.6,1611.8"/>
<path class="t" d="M1089.9,1713.5 A383,215 0 0 1 370.1,1713.5"/>
<path class="h" d="M391.3,1531.7 A340,95 0 0 1 1068.7,1531.7"/>
<path class="k w" d="M590,1265 C531.7,1269.7 542.5,1275.8 520,1290 C497.5,1304.2 469.2,1328.3 455,1350 C440.8,1371.7 436.7,1395 435,1420 C433.3,1445 430.8,1475 445,1500 C459.2,1525 490.8,1552.5 520,1570 C549.2,1587.5 585,1597.5 620,1605 C655,1612.5 691.7,1615.8 730,1615 C768.3,1614.2 813.3,1609.2 850,1600 C886.7,1590.8 921.7,1578.3 950,1560 C978.3,1541.7 1007,1516.7 1020,1490 C1033,1463.3 1033,1428.3 1028,1400 C1023,1371.7 1006.3,1340 990,1320 C973.7,1300 950,1289.7 930,1280 C910,1270.3 926.7,1264.5 870,1262 C813.3,1259.5 648.3,1260.3 590,1265 Z"/>
<path class="t" d="M481,1440.5 A250,120 0 1 1 979,1440.5"/>
<path class="t" d="M980,1430 A250,100 0 0 1 480,1430"/>
<path class="t" d="M967.6,1584.2 A290,112 0 0 1 492.4,1584.2"/>
<path class="k w" d="M578,1262 C578.3,1271.7 576.3,1304.5 580,1320 C583.7,1335.5 588.3,1344.2 600,1355 C611.7,1365.8 628.3,1377.5 650,1385 C671.7,1392.5 701.7,1400 730,1400 C758.3,1400 797.5,1393.3 820,1385 C842.5,1376.7 855,1360.8 865,1350 C875,1339.2 877.8,1334.7 880,1320 C882.2,1305.3 878.3,1271.7 878,1262"/>
<path class="t" d="M862.9,1337.8 A135,45 0 0 1 597.1,1337.8"/>
<path class="t" d="M640,1400 C646.7,1405 665,1423.3 680,1430 C695,1436.7 711.7,1440 730,1440 C748.3,1440 773.3,1436.7 790,1430 C806.7,1423.3 823.3,1405 830,1400"/>
<path class="k w" d="M458,190 L458,1010 L580,1252 L579,1252 A146,40 0 0 0 871,1252 L1005,1010 L1005,190 L1004,190 A273,150 0 0 0 458,190 Z"/>
<path class="m" d="M1004,190 A273,150 0 0 1 458,190"/>
<path class="t" d="M1003,238.1 A273,150 0 0 1 459,238.1"/>
<path class="t" d="M1001.3,260.9 A273,150 0 0 1 460.7,260.9"/>
<ellipse class="t" cx="730" cy="193" rx="222" ry="120"/>
<path class="m" d="M1004,1010 A274,135 0 0 1 456,1010"/>
<path class="t" d="M921.5,1055.7 A250,110 0 0 1 538.5,1055.7"/>
<rect x="690" y="20" width="82" height="40" fill="#fff"/>
<path class="k w" d="M455,320 L314.8,446.6 Q300,460 300,480 L300,485 Q300,500 311.1,510 L376.3,568.7 Q380,572 380,577 L380,710 Q380,715 377.1,719.1 L309.1,816.9 Q300,830 300,846 L300,852 Q300,862 306,870 L337,911 Q340,915 344,918 L447,994.1 Q455,1000 464.9,1001.4 L540.4,1012.3 Q580,1018 619.6,1012.3 L705,1000 L705,400 L619.7,391.2 Q560,385 509,353.4 Z"/>
<path class="k" d="M705,400 L705,1095"/>
<path class="t" d="M470,1040 C485,1045.8 520.8,1066.3 560,1075 C599.2,1083.7 680.8,1089.2 705,1092"/>
<path class="t" d="M680,405 L455,585 L455,602"/>
<path class="m" d="M380,572 L455,605 L535,655 L535,842"/>
<path class="t" d="M380,715 L535,842 L455,960 L455,1000"/>
<circle class="f" cx="378" cy="870" r="20"/>
<path class="m" d="M378,870 L78,965"/>
</g>

<!-- 31_knob -->
<defs><g id="knob"><g transform="translate(1040 1570) scale(0.129383)">
<path class="k w" d="M268,660 Q238,660 238,690 L238,1095 Q238,1150 282.4,1182.4 L336.9,1222.1 Q345,1228 354.6,1230.9 L1235.4,1494.1 Q1245,1497 1251.9,1489.7 L1425.1,1307.3 Q1432,1300 1432,1290 L1432,1255 Q1432,1215 1395.5,1198.5 L1198.3,1109.5 Q1000,1020 816,904 L632,788 L632,690 Q632,660 602,660 Z"/>
<path class="t" d="M632,790 C631.7,803.3 635.3,845.8 630,870 C624.7,894.2 615,920 600,935 C585,950 566.7,955.5 540,960 C513.3,964.5 456.7,961.7 440,962"/>
<path class="t" d="M345,1225 L345,915 L430,955"/>
<path class="t" d="M430,955 C458.3,975 535,1034.2 600,1075 C665,1115.8 745,1162.5 820,1200 C895,1237.5 974.7,1266.7 1050,1300 C1125.3,1333.3 1235,1383.3 1272,1400"/>
<path class="t" d="M1268,1482 L1272,1400 L1428,1250"/>
<ellipse class="k w" cx="435" cy="700" rx="196" ry="92"/>
<path class="t" d="M628,731.5 A196,95 0 0 1 242,731.5"/>
<path class="t" d="M618.5,753.8 A190,92 0 0 1 251.5,753.8"/>
<path class="k w" d="M287,580 L292,690 L292,690 A143,55 0 0 0 578,690 L583,580"/>
<ellipse class="k w" cx="435" cy="580" rx="148" ry="70"/>
<path class="t" d="M566.6,638.8 A140,55 0 0 1 303.4,638.8"/>
<path class="k w" d="M375,610 L375,230 Q375,205 400,205 L467,205 Q492,205 492,230 L492,610"/>
<path class="t" d="M377,232 C386.2,234 413.2,244 432,244 C450.8,244 480.3,234 490,232"/>
<path class="t" d="M377,256 C386.2,258 413.2,268 432,268 C450.8,268 480.3,258 490,256"/>
<path class="t" d="M377,280 C386.2,282 413.2,292 432,292 C450.8,292 480.3,282 490,280"/>
<path class="t" d="M377,304 C386.2,306 413.2,316 432,316 C450.8,316 480.3,306 490,304"/>
<path class="t" d="M377,328 C386.2,330 413.2,340 432,340 C450.8,340 480.3,330 490,328"/>
<path class="t" d="M377,352 C386.2,354 413.2,364 432,364 C450.8,364 480.3,354 490,352"/>
<path class="t" d="M377,376 C386.2,378 413.2,388 432,388 C450.8,388 480.3,378 490,376"/>
<path class="t" d="M377,400 C386.2,402 413.2,412 432,412 C450.8,412 480.3,402 490,400"/>
<path class="t" d="M377,424 C386.2,426 413.2,436 432,436 C450.8,436 480.3,426 490,424"/>
<path class="t" d="M377,448 C386.2,450 413.2,460 432,460 C450.8,460 480.3,450 490,448"/>
<path class="t" d="M377,472 C386.2,474 413.2,484 432,484 C450.8,484 480.3,474 490,472"/>
<path class="t" d="M377,496 C386.2,498 413.2,508 432,508 C450.8,508 480.3,498 490,496"/>
<path class="t" d="M377,520 C386.2,522 413.2,532 432,532 C450.8,532 480.3,522 490,520"/>
<path class="t" d="M377,544 C386.2,546 413.2,556 432,556 C450.8,556 480.3,546 490,544"/>
<path class="t" d="M377,568 C386.2,570 413.2,580 432,580 C450.8,580 480.3,570 490,568"/>
<path class="t" d="M377,592 C386.2,594 413.2,604 432,604 C450.8,604 480.3,594 490,592"/>
</g></g></defs>
<use href="#knob"/><use href="#knob" x="-135.9" y="1301.4"/>


<!-- 35_pcb -->
<g transform="translate(520 2080) scale(0.283426)">
<path class="k w" d="M680,925 L740,990 L848,945 L848,895 L700,900 Z"/>
<path class="m" d="M740,935 L740,990"/>
<path class="t" d="M740,935 L848,892"/>
<path class="k w" d="M850,885 L885,925 L1060,850 L1060,785 L860,860 Z"/>
<path class="m" d="M885,870 L885,925"/>
<path class="k w" d="M1068,790 L1100,828 L1180,795 L1180,740 L1075,770 Z"/>
<path class="m" d="M1100,775 L1100,828"/>
<path class="k w" d="M1185,735 L1230,772 L1308,740 L1308,680 L1190,715 Z"/>
<path class="m" d="M1230,718 L1230,772"/>
<path class="k w" d="M1315,680 L1352,715 L1507,650 L1507,585 L1320,655 Z"/>
<path class="m" d="M1352,660 L1352,715"/>
<path class="m w" d="M95,480 L120,520 L160,560 L180,550 L180,520"/>
<path class="m" d="M250,600 L265,628 L285,625 L285,610"/>
<path class="k w" d="M70,445 L895,72 L1533,548 L1533,572 L712,942 L72,470 Z"/>
<path class="m" d="M70,445 L710,920 L1533,548"/>
<path class="t" d="M710,920 L712,942"/>
<ellipse class="t" cx="1110" cy="288" rx="42" ry="25"/>
<ellipse class="m" cx="1110" cy="289" rx="18" ry="11"/>
<ellipse class="t" cx="788" cy="432" rx="42" ry="25"/>
<ellipse class="m" cx="788" cy="433" rx="18" ry="11"/>
<ellipse class="t" cx="697" cy="472" rx="42" ry="25"/>
<ellipse class="m" cx="697" cy="473" rx="18" ry="11"/>
<ellipse class="t" cx="1355" cy="472" rx="42" ry="25"/>
<ellipse class="m" cx="1355" cy="473" rx="18" ry="11"/>
<ellipse class="t" cx="375" cy="615" rx="42" ry="25"/>
<ellipse class="m" cx="375" cy="616" rx="18" ry="11"/>
<ellipse class="t" cx="1035" cy="617" rx="42" ry="25"/>
<ellipse class="m" cx="1035" cy="618" rx="18" ry="11"/>
<ellipse class="t" cx="945" cy="658" rx="42" ry="25"/>
<ellipse class="m" cx="945" cy="659" rx="18" ry="11"/>
<ellipse class="t" cx="622" cy="800" rx="42" ry="25"/>
<ellipse class="m" cx="622" cy="801" rx="18" ry="11"/>
<circle class="f" cx="120" cy="503" r="11"/>
<path class="m" d="M120,503 L0,540"/>
</g>

<!-- 40_base -->
<g transform="translate(430 2430) scale(0.246457)">
<path class="w" d="M70,760 C72,708.3 71.7,680 80,640 C88.3,600 100,560 120,520 C140,480 165,436.7 200,400 C235,363.3 283.3,328.3 330,300 C376.7,271.7 440,245.5 480,230 C520,214.5 550,210.8 570,207 C590,203.2 570,214.8 600,207 C630,199.2 720,170.8 750,160 C780,149.2 738.3,151.2 780,142 C821.7,132.8 921.7,115.7 1000,105 C1078.3,94.3 1175,82.2 1250,78 C1325,73.8 1408.1,78 1450,80 C1491.9,82 1442.8,78.3 1501.3,90 C1559.8,101.7 1698,120 1801.3,150 C1904.6,180 2029.6,225 2121.3,270 C2213,315 2290.5,375 2351.3,420 C2412.1,465 2462.1,515.8 2486.3,540 C2510.5,564.2 2480.5,543.3 2496.3,565 C2512.1,586.7 2557.1,630.8 2581.3,670 C2605.5,709.2 2623,753.3 2641.3,800 C2659.6,846.7 2679.6,900 2691.3,950 C2703,1000 2707,1050 2711.3,1100 C2715.6,1150 2716.5,1200 2717.3,1250 C2718.1,1300 2719.8,1361.7 2716.3,1400 C2712.8,1438.3 2715.5,1447.5 2696.3,1480 C2677.1,1512.5 2642.1,1562.5 2601.3,1595 C2560.5,1627.5 2501.3,1654.2 2451.3,1675 C2401.3,1695.8 2346.3,1708.3 2301.3,1720 C2256.3,1731.7 2211.3,1738.3 2181.3,1745 C2151.3,1751.7 2144.6,1755 2121.3,1760 C2098,1765 2064.6,1767 2041.3,1775 C2018,1783 2004.6,1793 1981.3,1808 C1958,1823 1939.6,1839.7 1901.3,1865 C1863,1890.3 1801.3,1927.5 1751.3,1960 C1701.3,1992.5 1635.7,2037.5 1601.3,2060 C1566.9,2082.5 1563.5,2086.3 1545,2095 C1526.5,2103.7 1507.5,2108.5 1490,2112 C1472.5,2115.5 1458.3,2117 1440,2116 C1421.7,2115 1420,2115.3 1380,2106 C1340,2096.7 1263.3,2079.3 1200,2060 C1136.7,2040.7 1066.7,2016.7 1000,1990 C933.3,1963.3 866.7,1933.3 800,1900 C733.3,1866.7 666.7,1830 600,1790 C533.3,1750 458.3,1703.3 400,1660 C341.7,1616.7 291.7,1573.3 250,1530 C208.3,1486.7 176.7,1445 150,1400 C123.3,1355 103.3,1301.7 90,1260 C76.7,1218.3 73.7,1201.7 70,1150 C66.3,1098.3 68,1015 68,950 C68,885 68,811.7 70,760 Z" stroke="none"/>
<path class="t" d="M92,770 C93.3,751.7 92,698.3 100,660 C108,621.7 120.8,579.2 140,540 C159.2,500.8 181.7,460.8 215,425 C248.3,389.2 295,353.3 340,325 C385,296.7 445,271.2 485,255 C525,238.8 564.2,232.5 580,228"/>
<path class="t" d="M600,225 L760,180"/>
<path class="t" d="M785,160 C820.8,153.7 922.5,132.8 1000,122 C1077.5,111.2 1175,99.2 1250,95 C1325,90.8 1408.1,95 1450,97 C1491.9,99 1442.8,95.2 1501.3,107 C1559.8,118.8 1698,137.2 1801.3,168 C1904.6,198.8 2031.3,246.7 2121.3,292 C2211.3,337.3 2283.8,396.2 2341.3,440 C2398.8,483.8 2445.5,535.8 2466.3,555"/>
<path class="t" d="M2511.3,600 C2520.5,615 2548,655 2566.3,690 C2584.6,725 2604.6,765 2621.3,810 C2638,855 2655.5,911.7 2666.3,960 C2677.1,1008.3 2682.1,1060 2686.3,1100 C2690.5,1140 2695.5,1173.3 2691.3,1200 C2687.1,1226.7 2666.3,1250 2661.3,1260"/>
<path class="t" d="M160,990 C175,971.7 210,915 250,880 C290,845 343.3,813.3 400,780 C456.7,746.7 558.3,696.7 590,680"/>
<path class="t" d="M780,612 C816.7,604.2 921.7,577.8 1000,565 C1078.3,552.2 1175,541.2 1250,535 C1325,528.8 1408.1,528 1450,528 C1491.9,528 1442.8,527.2 1501.3,535 C1559.8,542.8 1698,552.5 1801.3,575 C1904.6,597.5 2038,639.2 2121.3,670 C2204.6,700.8 2244.6,723.3 2301.3,760 C2358,796.7 2434.6,868.3 2461.3,890"/>
<path class="t" d="M2461.3,890 C2476.3,908.3 2524.6,960 2551.3,1000 C2578,1040 2604.6,1088.3 2621.3,1130 C2638,1171.7 2646.3,1230 2651.3,1250"/>
<path class="t" d="M590,680 L780,612"/>
<path class="t" d="M578,222 L578,650 L590,680"/>
<path class="t" d="M598,222 L598,678"/>
<path class="t" d="M768,172 L768,618"/>
<path class="t" d="M778,165 L778,612"/>
<path class="m w" d="M649.2,272.6 Q640,262 650.2,252.4 L661.8,241.6 Q672,232 682.8,240.9 L744.2,291.1 Q755,300 751.2,313.5 L748.8,321.5 Q745,335 731.6,339.1 L725.4,340.9 Q712,345 702.8,334.4 Z"/>
<ellipse class="m" cx="728" cy="318" rx="22" ry="28" transform="rotate(-30 728 318)"/>
<path class="t" d="M655,250 L700,300"/>
<path class="t" d="M668,238 L715,290"/>
<path class="m" d="M2463.3,555 L2463.3,895"/>
<path class="t" d="M2551.3,680 L2551.3,995"/>
<path class="t" d="M2566.3,690 L2566.3,975"/>
<path class="m w" d="M2423.3,692.7 Q2421.3,685 2429,682.7 L2513.6,657.3 Q2521.3,655 2522.9,662.8 L2529.7,697.2 Q2531.3,705 2523.8,707.9 L2443.8,739.1 Q2436.3,742 2434.3,734.3 Z"/>
<path class="k" d="M2446.3,690 L2521.3,670"/>
<ellipse class="m" cx="2431.3" cy="712" rx="12" ry="28" transform="rotate(-10 2431.3 712)"/>
<path class="w" d="M75,800 C82,791.7 95.8,868.3 110,900 C124.2,931.7 136.7,956.7 160,990 C183.3,1023.3 210,1061.7 250,1100 C290,1138.3 341.7,1178.3 400,1220 C458.3,1261.7 541.7,1313.3 600,1350 C658.3,1386.7 696.7,1410 750,1440 C803.3,1470 845,1496.7 920,1530 C995,1563.3 1111.7,1605 1200,1640 C1288.3,1675 1395,1721.7 1450,1740 C1505,1758.3 1504.8,1751.7 1530,1750 C1555.2,1748.3 1576.1,1741.7 1601.3,1730 C1626.5,1718.3 1648,1701.7 1681.3,1680 C1714.6,1658.3 1762.1,1622.5 1801.3,1600 C1840.5,1577.5 1895.5,1550 1916.3,1545 C1937.1,1540 1923.8,1557.5 1926.3,1570 C1928.8,1582.5 1926.3,1603.3 1931.3,1620 C1936.3,1636.7 1944.6,1659.7 1956.3,1670 C1968,1680.3 1980.5,1687 2001.3,1682 C2022.1,1677 2056.3,1660.3 2081.3,1640 C2106.3,1619.7 2133,1586.7 2151.3,1560 C2169.6,1533.3 2184.6,1502.5 2191.3,1480 C2198,1457.5 2141.3,1450.8 2191.3,1425 C2241.3,1399.2 2439.6,1338.3 2491.3,1325 C2543,1311.7 2502.1,1335 2501.3,1345 C2500.5,1355 2487.1,1373.8 2486.3,1385 C2485.5,1396.2 2488.8,1406.2 2496.3,1412 C2503.8,1417.8 2519.1,1423.3 2531.3,1420 C2543.5,1416.7 2561.8,1403.7 2569.3,1392 C2576.8,1380.3 2579.3,1361.7 2576.3,1350 C2573.3,1338.3 2555.1,1330.3 2551.3,1322 C2547.5,1313.7 2545,1305.3 2553.3,1300 C2561.6,1294.7 2583.3,1296.7 2601.3,1290 C2619.3,1283.3 2643.8,1275 2661.3,1260 C2678.8,1245 2697,1201.7 2706.3,1200 C2715.6,1198.3 2715.6,1216.7 2717.3,1250 C2719,1283.3 2719.8,1361.7 2716.3,1400 C2712.8,1438.3 2715.5,1447.5 2696.3,1480 C2677.1,1512.5 2642.1,1562.5 2601.3,1595 C2560.5,1627.5 2501.3,1654.2 2451.3,1675 C2401.3,1695.8 2346.3,1708.3 2301.3,1720 C2256.3,1731.7 2211.3,1738.3 2181.3,1745 C2151.3,1751.7 2144.6,1755 2121.3,1760 C2098,1765 2064.6,1767 2041.3,1775 C2018,1783 2004.6,1793 1981.3,1808 C1958,1823 1939.6,1839.7 1901.3,1865 C1863,1890.3 1801.3,1927.5 1751.3,1960 C1701.3,1992.5 1635.7,2037.5 1601.3,2060 C1566.9,2082.5 1563.5,2086.3 1545,2095 C1526.5,2103.7 1507.5,2108.5 1490,2112 C1472.5,2115.5 1458.3,2117 1440,2116 C1421.7,2115 1420,2115.3 1380,2106 C1340,2096.7 1263.3,2079.3 1200,2060 C1136.7,2040.7 1066.7,2016.7 1000,1990 C933.3,1963.3 866.7,1933.3 800,1900 C733.3,1866.7 666.7,1830 600,1790 C533.3,1750 458.3,1703.3 400,1660 C341.7,1616.7 291.7,1573.3 250,1530 C208.3,1486.7 176.7,1445 150,1400 C123.3,1355 103.3,1301.7 90,1260 C76.7,1218.3 73.7,1201.7 70,1150 C66.3,1098.3 67.2,1008.3 68,950 C68.8,891.7 68,808.3 75,800 Z" stroke="none"/>
<path class="k" d="M75,800 C80.8,816.7 95.8,868.3 110,900 C124.2,931.7 136.7,956.7 160,990 C183.3,1023.3 210,1061.7 250,1100 C290,1138.3 341.7,1178.3 400,1220 C458.3,1261.7 541.7,1313.3 600,1350 C658.3,1386.7 696.7,1410 750,1440 C803.3,1470 845,1496.7 920,1530 C995,1563.3 1111.7,1605 1200,1640 C1288.3,1675 1395,1721.7 1450,1740 C1505,1758.3 1504.8,1751.7 1530,1750 C1555.2,1748.3 1576.1,1741.7 1601.3,1730 C1626.5,1718.3 1648,1701.7 1681.3,1680 C1714.6,1658.3 1762.1,1622.5 1801.3,1600 C1840.5,1577.5 1897.1,1554.2 1916.3,1545"/>
<path class="k" d="M1926.3,1570 C1927.1,1578.3 1926.3,1603.3 1931.3,1620 C1936.3,1636.7 1944.6,1659.7 1956.3,1670 C1968,1680.3 1980.5,1687 2001.3,1682 C2022.1,1677 2056.3,1660.3 2081.3,1640 C2106.3,1619.7 2133,1586.7 2151.3,1560 C2169.6,1533.3 2184.6,1502.5 2191.3,1480 C2198,1457.5 2191.3,1434.2 2191.3,1425"/>
<path class="k" d="M2191.3,1425 C2198.8,1422.5 2326.3,1380 2341.3,1375 C2356.3,1370 2483.8,1327.5 2491.3,1325"/>
<path class="k" d="M2491.3,1325 C2493,1328.3 2502.1,1335 2501.3,1345 C2500.5,1355 2487.1,1373.8 2486.3,1385 C2485.5,1396.2 2488.8,1406.2 2496.3,1412 C2503.8,1417.8 2519.1,1423.3 2531.3,1420 C2543.5,1416.7 2561.8,1403.7 2569.3,1392 C2576.8,1380.3 2579.3,1361.7 2576.3,1350 C2573.3,1338.3 2555.1,1330.3 2551.3,1322 C2547.5,1313.7 2553,1303.7 2553.3,1300"/>
<path class="k" d="M2553.3,1300 C2561.3,1298.3 2583.3,1296.7 2601.3,1290 C2619.3,1283.3 2643.8,1275 2661.3,1260 C2678.8,1245 2698.8,1210 2706.3,1200"/>
<path class="t" d="M95,870 C104.2,891.7 124.2,958 150,1000 C175.8,1042 208.3,1081.7 250,1122 C291.7,1162.3 341.7,1200.3 400,1242 C458.3,1283.7 542.5,1335.3 600,1372 C657.5,1408.7 720.8,1447 745,1462"/>
<path class="t" d="M915,1552 C962.5,1570.3 1110.8,1627 1200,1662 C1289.2,1697 1395,1744 1450,1762 C1505,1780 1504.8,1772 1530,1770 C1555.2,1768 1574.4,1762 1601.3,1750 C1628.2,1738 1658,1719.3 1691.3,1698 C1724.6,1676.7 1763,1643.7 1801.3,1622 C1839.6,1600.3 1901.3,1577 1921.3,1568"/>
<path class="t" d="M1941.3,1600 C1943.3,1605 1955.3,1643.8 1961.3,1650 C1967.3,1656.2 1989.8,1664.8 2001.3,1662 C2012.8,1659.2 2062.3,1633.7 2076.3,1622 C2090.3,1610.3 2131.6,1559.2 2141.3,1545 C2151,1530.8 2166.8,1490.5 2173.3,1480 C2179.8,1469.5 2174.5,1453.5 2206.3,1440 C2238.1,1426.5 2462.8,1354.5 2491.3,1345"/>
<path class="t" d="M2511.3,1352 C2509.6,1357.5 2498,1376.7 2501.3,1385 C2504.6,1393.3 2521.6,1402.5 2531.3,1402 C2541,1401.5 2554.3,1390.7 2559.3,1382 C2564.3,1373.3 2560.6,1360.7 2561.3,1350 C2562,1339.3 2556.6,1325 2563.3,1318 C2570,1311 2584.1,1314.3 2601.3,1308 C2618.5,1301.7 2655.5,1284.7 2666.3,1280"/>
<path class="t" d="M840,1500 C846.7,1491.7 861.7,1465 880,1450 C898.3,1435 913.3,1424.2 950,1410 C986.7,1395.8 1041.7,1377.5 1100,1365 C1158.3,1352.5 1233.3,1340 1300,1335 C1366.7,1330 1466.5,1334.2 1500,1335 C1533.5,1335.8 1476.1,1332.5 1501.3,1340 C1526.5,1347.5 1601.3,1361.7 1651.3,1380 C1701.3,1398.3 1761.3,1423.3 1801.3,1450 C1841.3,1476.7 1876.3,1525 1891.3,1540"/>
<path class="t" d="M870,1515 C876.7,1507.8 895,1485.3 910,1472 C925,1458.7 928.3,1448.3 960,1435 C991.7,1421.7 1043.3,1404.5 1100,1392 C1156.7,1379.5 1233.3,1365.3 1300,1360 C1366.7,1354.7 1466.5,1359.7 1500,1360 C1533.5,1360.3 1476.1,1354.5 1501.3,1362 C1526.5,1369.5 1603,1385.3 1651.3,1405 C1699.6,1424.7 1756.3,1454.2 1791.3,1480 C1826.3,1505.8 1849.6,1546.7 1861.3,1560"/>
<path class="t" d="M740,1478 L740,1780 L755,1800"/>
<path class="t" d="M755,1485 L755,1800"/>
<path class="t" d="M905,1560 L905,1866"/>
<path class="t" d="M915,1565 L915,1862"/>
<path class="m" d="M755,1800 L905,1866"/>
<ellipse class="k w" cx="828" cy="1600" rx="56" ry="66" transform="rotate(-25 828 1600)"/>
<ellipse class="m" cx="826" cy="1603" rx="26" ry="32" transform="rotate(-25 826 1603)"/>
<path class="t" d="M290,1560 C325,1580 423.3,1640 500,1680 C576.7,1720 666.7,1765 750,1800 C833.3,1835 916.7,1863.3 1000,1890 C1083.3,1916.7 1175,1941.7 1250,1960 C1325,1978.3 1408.1,1992 1450,2000 C1491.9,2008 1472.8,2008 1501.3,2008 C1529.8,2008 1601.3,2001.3 1621.3,2000"/>
<path class="m" d="M2046.3,1620 C2042.1,1610 2023,1578.3 2021.3,1560 C2019.6,1541.7 2026.3,1523.7 2036.3,1510 C2046.3,1496.3 2063.8,1484.7 2081.3,1478 C2098.8,1471.3 2131.3,1471.3 2141.3,1470"/>
<path class="t" d="M2061.3,1600 C2058,1591.7 2042.1,1564.2 2041.3,1550 C2040.5,1535.8 2046.3,1525 2056.3,1515 C2066.3,1505 2087.1,1494.5 2101.3,1490 C2115.5,1485.5 2134.6,1488.3 2141.3,1488"/>
<path class="m" d="M2041.3,1590 C2051.3,1596.7 2084.6,1628.3 2101.3,1630 C2118,1631.7 2134.6,1605 2141.3,1600"/>
<path class="t" d="M2046.3,1620 L2076.3,1660"/>
<path class="k" d="M2141.3,1622 C2149.3,1620.2 2286.3,1588.3 2301.3,1585 C2316.3,1581.7 2431.3,1557 2441.3,1555 C2451.3,1553 2498.3,1545.5 2501.3,1545"/>
<path class="t" d="M2501.3,1545 C2509.6,1545 2544.6,1538.8 2551.3,1545 C2558,1551.2 2558,1563.7 2541.3,1582 C2524.6,1600.3 2466.3,1642.8 2451.3,1655"/>
<path class="t" d="M2441.3,1557 C2448.8,1557.8 2483,1554.8 2486.3,1562 C2489.6,1569.2 2478.8,1583.7 2461.3,1600 C2443.8,1616.3 2414.6,1643.3 2381.3,1660 C2348,1676.7 2294.6,1690 2261.3,1700 C2228,1710 2194.6,1716.7 2181.3,1720"/>
<path class="k" d="M2141.3,1622 C2134.6,1626.7 2118,1633.7 2101.3,1650 C2084.6,1666.3 2061.3,1694.2 2041.3,1720 C2021.3,1745.8 1991.3,1790.8 1981.3,1805"/>
<path class="t" d="M2101.3,1680 C2094.6,1690 2074.6,1721.7 2061.3,1740 C2048,1758.3 2048,1771.7 2021.3,1790 C1994.6,1808.3 1921.3,1840 1901.3,1850"/>
<path class="t" d="M2631.3,1570 C2618,1578.3 2586.3,1601.7 2551.3,1620 C2516.3,1638.3 2443,1670 2421.3,1680"/>
<path class="k" d="M70,760 C72,708.3 71.7,680 80,640 C88.3,600 100,560 120,520 C140,480 165,436.7 200,400 C235,363.3 283.3,328.3 330,300 C376.7,271.7 440,245.5 480,230 C520,214.5 550,210.8 570,207 C590,203.2 570,214.8 600,207 C630,199.2 720,170.8 750,160 C780,149.2 738.3,151.2 780,142 C821.7,132.8 921.7,115.7 1000,105 C1078.3,94.3 1175,82.2 1250,78 C1325,73.8 1408.1,78 1450,80 C1491.9,82 1442.8,78.3 1501.3,90 C1559.8,101.7 1698,120 1801.3,150 C1904.6,180 2029.6,225 2121.3,270 C2213,315 2290.5,375 2351.3,420 C2412.1,465 2462.1,515.8 2486.3,540 C2510.5,564.2 2480.5,543.3 2496.3,565 C2512.1,586.7 2557.1,630.8 2581.3,670 C2605.5,709.2 2623,753.3 2641.3,800 C2659.6,846.7 2679.6,900 2691.3,950 C2703,1000 2707,1050 2711.3,1100 C2715.6,1150 2716.5,1200 2717.3,1250 C2718.1,1300 2719.8,1361.7 2716.3,1400 C2712.8,1438.3 2715.5,1447.5 2696.3,1480 C2677.1,1512.5 2642.1,1562.5 2601.3,1595 C2560.5,1627.5 2501.3,1654.2 2451.3,1675 C2401.3,1695.8 2346.3,1708.3 2301.3,1720 C2256.3,1731.7 2211.3,1738.3 2181.3,1745 C2151.3,1751.7 2144.6,1755 2121.3,1760 C2098,1765 2064.6,1767 2041.3,1775 C2018,1783 2004.6,1793 1981.3,1808 C1958,1823 1939.6,1839.7 1901.3,1865 C1863,1890.3 1801.3,1927.5 1751.3,1960 C1701.3,1992.5 1635.7,2037.5 1601.3,2060 C1566.9,2082.5 1563.5,2086.3 1545,2095 C1526.5,2103.7 1507.5,2108.5 1490,2112 C1472.5,2115.5 1458.3,2117 1440,2116 C1421.7,2115 1420,2115.3 1380,2106 C1340,2096.7 1263.3,2079.3 1200,2060 C1136.7,2040.7 1066.7,2016.7 1000,1990 C933.3,1963.3 866.7,1933.3 800,1900 C733.3,1866.7 666.7,1830 600,1790 C533.3,1750 458.3,1703.3 400,1660 C341.7,1616.7 291.7,1573.3 250,1530 C208.3,1486.7 176.7,1445 150,1400 C123.3,1355 103.3,1301.7 90,1260 C76.7,1218.3 73.7,1201.7 70,1150 C66.3,1098.3 68,1015 68,950 C68,885 68,811.7 70,760 Z"/>
</g>

<!-- 50_cable4 -->
<g transform="translate(1220 2010) scale(0.209489)">
<path class="m" d="M250,880 C233.3,866.7 178.3,823.3 150,800 C121.7,776.7 95.8,760 80,740 C64.2,720 56.7,710 55,680 C53.3,650 60.8,601.7 70,560 C79.2,518.3 93.3,470 110,430 C126.7,390 146.7,353.3 170,320 C193.3,286.7 223.3,253.3 250,230 C276.7,206.7 300,195 330,180 C360,165 398.3,155.8 430,140 C461.7,124.2 505,94.2 520,85"/>
<path class="t" d="M520,85 C524.2,85.5 535.8,80.5 545,88 C554.2,95.5 565.8,116.3 575,130 C584.2,143.7 579.2,148.3 600,170 C620.8,191.7 658.3,233.3 700,260 C741.7,286.7 800,311.7 850,330 C900,348.3 950,358.3 1000,370 C1050,381.7 1100,393.3 1150,400 C1200,406.7 1265,411.7 1300,410 C1335,408.3 1340,403.3 1360,390 C1380,376.7 1402.5,348.3 1420,330 C1437.5,311.7 1457.5,288.3 1465,280"/>
<path class="t" d="M560,135 C568.3,144.2 586.7,167.2 610,190 C633.3,212.8 660,246.7 700,272 C740,297.3 800,323.7 850,342 C900,360.3 950,370.7 1000,382 C1050,393.3 1100,404 1150,410 C1200,416 1275,416.7 1300,418"/>
<path class="t" d="M262,868 C245,855 188.3,812.2 160,790 C131.7,767.8 107.3,753.3 92,735 C76.7,716.7 69.7,708.3 68,680 C66.3,651.7 73.3,605 82,565 C90.7,525 103.7,479.2 120,440 C136.3,400.8 157,363 180,330 C203,297 232.2,265.3 258,242 C283.8,218.7 311.3,203.7 335,190 C358.7,176.3 377.5,168.3 400,160 C422.5,151.7 458.3,143.3 470,140"/>
<path class="m" d="M470,140 C456,163 204.2,575 190,600 C175.8,625 184.5,635.5 185,640 C185.5,644.5 199.2,687.5 200,690"/>
<path class="m" d="M240,715 L345,795"/>
<path class="m" d="M400,155 C425,150.8 500,130.8 550,130 C600,129.2 650,140.8 700,150 C750,159.2 800,170 850,185 C900,200 958.3,222.5 1000,240 C1041.7,257.5 1070,275.8 1100,290 C1130,304.2 1156.7,320 1180,325 C1203.3,330 1221.7,325.8 1240,320 C1258.3,314.2 1268.3,310 1290,290 C1311.7,270 1356.7,215 1370,200"/>
<path class="m w" d="M1358,175 L1410,125 L1535,245 L1485,297 Z"/>
<path class="t" d="M1455,270 L1510,215"/>
<path class="m w" d="M285,835 L445,757 L487,790 L487,840 L325,912 L285,880 Z"/>
<path class="t" d="M285,835 L330,865 L487,790"/>
<path class="t" d="M330,865 L325,912"/>
<ellipse class="m w" cx="265" cy="852" rx="12" ry="16"/>
<circle class="f" cx="350" cy="860" r="3"/>
<circle class="f" cx="385" cy="845" r="3"/>
<circle class="f" cx="420" cy="830" r="3"/>
<circle class="f" cx="455" cy="815" r="3"/>
<circle class="f" cx="370" cy="885" r="3"/>
<circle class="f" cx="405" cy="870" r="3"/>
<circle class="f" cx="440" cy="853" r="3"/>
</g>

<!-- 51_cable5 -->
<g transform="translate(1480 2220) scale(0.160197)">
<path class="m" d="M200,235 C233.3,219.2 341.7,163.3 400,140 C458.3,116.7 508.3,104.2 550,95 C591.7,85.8 608.3,83.3 650,85 C691.7,86.7 741.7,89.2 800,105 C858.3,120.8 933.3,152.5 1000,180 C1066.7,207.5 1146.7,245.8 1200,270 C1253.3,294.2 1295.8,310 1320,325 C1344.2,340 1339.2,339.2 1345,360 C1350.8,380.8 1353.3,435 1355,450"/>
<path class="m" d="M1355,450 C1355,490.7 1354,1016 1355,1060 C1356,1104 1365.7,1103 1370,1110 C1374.3,1117 1416.7,1161.3 1420,1165"/>
<path class="k" d="M265,375 C295.8,361.7 394.2,316.7 450,295 C505.8,273.3 551.7,256.7 600,245 C648.3,233.3 696.7,225.8 740,225 C783.3,224.2 816.7,228.3 860,240 C903.3,251.7 946.7,270.8 1000,295 C1053.3,319.2 1145.8,364.2 1180,385 C1214.2,405.8 1198.7,400.8 1205,420 C1211.3,439.2 1215.8,486.7 1218,500"/>
<path class="k" d="M1218,500 C1218,540.7 1216.5,1064.7 1218,1110 C1219.5,1155.3 1234.5,1171.3 1240,1180 C1245.5,1188.7 1296,1236 1300,1240"/>
<path class="t" d="M1205,480 L1205,1100"/>
<path class="m w" d="M70,265 L95,225 L180,205 L265,375 L250,410 L170,445 Z"/>
<path class="t" d="M95,225 L185,395 L260,370"/>
<path class="t" d="M185,395 L170,440"/>
<path class="m w" d="M1310,1225 L1480,1150 L1540,1195 L1540,1265 L1370,1340 L1310,1290 Z"/>
<path class="t" d="M1310,1225 L1375,1270 L1540,1195"/>
<path class="t" d="M1375,1270 L1372,1338"/>
<circle class="f" cx="1410" cy="1270" r="3.5"/>
<circle class="f" cx="1460" cy="1245" r="3.5"/>
<circle class="f" cx="1505" cy="1225" r="3.5"/>
<circle class="f" cx="1395" cy="1305" r="3.5"/>
<circle class="f" cx="1440" cy="1285" r="3.5"/>
<circle class="f" cx="1485" cy="1262" r="3.5"/>
</g>

<!-- 52_cable6 -->
<g transform="translate(1760 1900) scale(0.135551)">
<path class="m" d="M285,230 C299.2,232.5 342.5,233.3 370,245 C397.5,256.7 421.7,269.2 450,300 C478.3,330.8 508.3,373.3 540,430 C571.7,486.7 606.7,561.7 640,640 C673.3,718.3 713.3,826.7 740,900 C766.7,973.3 785,1033.3 800,1080 C815,1126.7 825,1163.3 830,1180"/>
<path class="m" d="M840,1300 C839.2,1316.7 838.3,1366.7 835,1400 C831.7,1433.3 823.3,1470 820,1500 C816.7,1530 813.3,1555 815,1580 C816.7,1605 820.8,1625 830,1650 C839.2,1675 850,1703.3 870,1730 C890,1756.7 918.3,1781.7 950,1810 C981.7,1838.3 1023.3,1870.8 1060,1900 C1096.7,1929.2 1151.7,1970.8 1170,1985"/>
<path class="m" d="M250,485 C263.3,486.7 301.7,485 330,495 C358.3,505 391.7,520.8 420,545 C448.3,569.2 476.7,599.2 500,640 C523.3,680.8 541.7,730 560,790 C578.3,850 596.7,940 610,1000 C623.3,1060 633.3,1100 640,1150 C646.7,1200 653.3,1250 650,1300 C646.7,1350 630.8,1406.7 620,1450 C609.2,1493.3 593.3,1526.7 585,1560 C576.7,1593.3 570.8,1623.3 570,1650 C569.2,1676.7 571.7,1695 580,1720 C588.3,1745 600,1773.3 620,1800 C640,1826.7 666.7,1853.3 700,1880 C733.3,1906.7 781.7,1933.3 820,1960 C858.3,1986.7 905,2019.2 930,2040 C955,2060.8 958.3,2078.3 970,2085 C981.7,2091.7 995,2080.8 1000,2080"/>
<path class="t" d="M330,505 C343.3,513.3 384.2,531.7 410,555 C435.8,578.3 462.5,605.8 485,645 C507.5,684.2 526.7,730.8 545,790 C563.3,849.2 581.7,940 595,1000 C608.3,1060 618.3,1100 625,1150 C631.7,1200 638.3,1250 635,1300 C631.7,1350 615.8,1406.7 605,1450 C594.2,1493.3 575.8,1541.7 570,1560"/>
<path class="m w" d="M125,495 L140,200 L175,145 L280,170 L265,480 L235,515 Z"/>
<path class="t" d="M175,150 L160,445 L260,480"/>
<path class="t" d="M160,445 L125,495"/>
<path class="m w" d="M1035,2050 L1310,1915 L1390,1970 L1385,2050 L1105,2190 L1035,2140 Z"/>
<path class="t" d="M1035,2050 L1110,2100 L1390,1970"/>
<path class="t" d="M1110,2100 L1105,2190"/>
<path class="m" d="M1000,2080 C999.2,2073.3 989.2,2047.5 995,2040 C1000.8,2032.5 1028.3,2035.8 1035,2035"/>
<circle class="f" cx="1150" cy="2110" r="3.5"/>
<circle class="f" cx="1140" cy="2150" r="3.5"/>
<circle class="f" cx="1190" cy="2091" r="3.5"/>
<circle class="f" cx="1180" cy="2131" r="3.5"/>
<circle class="f" cx="1230" cy="2072" r="3.5"/>
<circle class="f" cx="1220" cy="2112" r="3.5"/>
<circle class="f" cx="1270" cy="2053" r="3.5"/>
<circle class="f" cx="1260" cy="2093" r="3.5"/>
<circle class="f" cx="1310" cy="2034" r="3.5"/>
<circle class="f" cx="1300" cy="2074" r="3.5"/>
<circle class="f" cx="1350" cy="2015" r="3.5"/>
<circle class="f" cx="1340" cy="2055" r="3.5"/>
</g>

<!-- 53_cable3 -->
<g transform="translate(880 2310) scale(0.135551)">
<path class="m" d="M1095,245 L1310,500"/>
<path class="m" d="M960,275 L1010,340 L1210,575"/>
<path class="m" d="M1030,185 C1016.7,183.3 971.7,172.5 950,175 C928.3,177.5 910.8,187.5 900,200 C889.2,212.5 887.5,241.7 885,250"/>
<path class="m" d="M885,250 L885,910"/>
<path class="k" d="M1020,345 L1020,910"/>
<path class="m" d="M1020,910 C1016.7,925 1020,970.8 1000,1000 C980,1029.2 916.7,1070.8 900,1085"/>
<path class="m" d="M885,910 C882.5,915.8 880,934.2 870,945 C860,955.8 832.5,970 825,975"/>
<ellipse class="m w" cx="865" cy="1030" rx="38" ry="60" transform="rotate(-20 865 1030)"/>
<ellipse class="t" cx="862" cy="1032" rx="22" ry="40" transform="rotate(-20 862 1032)"/>
<path class="m" d="M840,1010 C816.7,1017.5 740,1046.7 700,1055 C660,1063.3 630,1067.5 600,1060 C570,1052.5 533.3,1018.3 520,1010"/>
<path class="m" d="M860,1075 C833.3,1083.3 743.3,1115.8 700,1125 C656.7,1134.2 636.7,1138.3 600,1130 C563.3,1121.7 500,1084.2 480,1075"/>
<ellipse class="k w" cx="1335" cy="655" rx="115.2" ry="150" transform="rotate(35 1335 655)"/>
<ellipse class="t" cx="1347" cy="662.2" rx="100.8" ry="132" transform="rotate(35 1347 662.2)"/>
<ellipse class="m" cx="1357" cy="668.2" rx="92.2" ry="120" transform="rotate(35 1357 668.2)"/>
<ellipse class="t" cx="1369" cy="675.4" rx="79.2" ry="104" transform="rotate(35 1369 675.4)"/>
<path class="w" d="M1320,640 L1440,830 L1520,790 L1420,615 Z" stroke="none"/>
<path class="m" d="M1440,830 C1420,808.3 1340,730 1320,700 C1300,670 1315,663.3 1320,650 C1325,636.7 1333.3,625.8 1350,620 C1366.7,614.2 1408.3,615.8 1420,615"/>
<path class="m" d="M1420,615 L1515,740"/>
<path class="m" d="M1335,720 L1440,835"/>
<ellipse class="m w" cx="1475" cy="785" rx="45" ry="68" transform="rotate(30 1475 785)"/>
<path class="k w" d="M165,905 L420,785 L520,838 L625,900 L625,1040 L500,1120 L345,1165 L255,1080 L165,1005 Z"/>
<path class="m" d="M165,905 L245,955 L490,838"/>
<path class="m" d="M245,955 L255,965 L255,1080"/>
<path class="m" d="M255,965 L345,1020 L625,900"/>
<path class="m" d="M345,1020 L345,1165"/>
<path class="t" d="M165,955 L250,1015"/>
<path class="k" d="M215,882 L280,930"/>
<path class="k" d="M270,856 L335,904"/>
<path class="k" d="M325,830 L390,878"/>
<path class="k" d="M380,804 L445,852"/>
<rect class="f" x="367" y="1042" width="36" height="36" transform="skewY(-24)" style="transform-origin:385px 1060px"/>
<rect class="f" x="422" y="1022" width="36" height="36" transform="skewY(-24)" style="transform-origin:440px 1040px"/>
<rect class="f" x="527" y="972" width="36" height="36" transform="skewY(-24)" style="transform-origin:545px 990px"/>
<rect class="f" x="577" y="947" width="36" height="36" transform="skewY(-24)" style="transform-origin:595px 965px"/>
<rect class="f" x="367" y="1097" width="36" height="36" transform="skewY(-24)" style="transform-origin:385px 1115px"/>
<rect class="f" x="422" y="1074" width="36" height="36" transform="skewY(-24)" style="transform-origin:440px 1092px"/>
<rect class="f" x="527" y="1022" width="36" height="36" transform="skewY(-24)" style="transform-origin:545px 1040px"/>
<rect class="f" x="577" y="997" width="36" height="36" transform="skewY(-24)" style="transform-origin:595px 1015px"/>
<circle class="f" cx="1058" cy="222" r="24"/>
</g>

<!-- 60_pad12a -->
<g transform="translate(1395 745) scale(0.166359)">
<path class="k w" d="M92.9,555.8 Q75,520 95,485.4 L120,442 Q150,390 207.2,371.9 L1133.7,79.6 Q1180,65 1220,92.5 L1227,97.3 Q1260,120 1278.3,155.6 L1529.7,644.4 Q1548,680 1549,720 L1549,720 Q1550,760 1522.7,789.3 L1493.6,820.4 Q1480,835 1461.1,841.7 L503.9,1179.5 Q460,1195 422.5,1167.5 L401.1,1151.8 Q385,1140 376.1,1122.1 Z"/>
<path class="t" d="M105.2,546.5 Q85,512 106.8,478.5 L130.7,441.9 Q158,400 205.7,385 L1132,93.5 Q1175,80 1212.5,105 L1216.7,107.8 Q1250,130 1268.1,165.6 L1507.3,635.4 Q1530,680 1507.6,724.7 L1487.9,764.2 Q1470,800 1432.1,812.7 L542.4,1110.8 Q500,1125 460,1105 L446.8,1098.4 Q420,1085 404.9,1059.1 Z"/>
<ellipse class="m" cx="195" cy="450" rx="50" ry="42" transform="rotate(-15 195 450)"/>
<ellipse class="m" cx="195" cy="450" rx="28" ry="24" transform="rotate(-15 195 450)"/>
<ellipse class="m" cx="1150" cy="130" rx="50" ry="42" transform="rotate(-15 1150 130)"/>
<ellipse class="m" cx="1150" cy="130" rx="28" ry="24" transform="rotate(-15 1150 130)"/>
<ellipse class="m" cx="1465" cy="745" rx="50" ry="42" transform="rotate(-15 1465 745)"/>
<ellipse class="m" cx="1465" cy="745" rx="28" ry="24" transform="rotate(-15 1465 745)"/>
<ellipse class="m" cx="510" cy="1065" rx="50" ry="42" transform="rotate(-15 510 1065)"/>
<ellipse class="m" cx="510" cy="1065" rx="28" ry="24" transform="rotate(-15 510 1065)"/>
<ellipse class="m" cx="240" cy="540" rx="42" ry="36" transform="rotate(-15 240 540)"/>
<ellipse class="m" cx="1195" cy="220" rx="42" ry="36" transform="rotate(-15 1195 220)"/>
<ellipse class="m" cx="1310" cy="440" rx="42" ry="36" transform="rotate(-15 1310 440)"/>
<ellipse class="m" cx="1420" cy="655" rx="42" ry="36" transform="rotate(-15 1420 655)"/>
<ellipse class="m" cx="350" cy="755" rx="42" ry="36" transform="rotate(-15 350 755)"/>
<ellipse class="m" cx="460" cy="975" rx="42" ry="36" transform="rotate(-15 460 975)"/>
<ellipse class="m w" cx="442" cy="477" rx="138" ry="84" transform="rotate(-14 442 477)"/>
<ellipse class="t" cx="448" cy="467" rx="118" ry="72" transform="rotate(-14 448 467)"/>
<ellipse class="m w" cx="465" cy="437" rx="114" ry="78" transform="rotate(-14 465 437)"/>
<ellipse class="m w" cx="470" cy="415" rx="114" ry="78" transform="rotate(-14 470 415)"/>
<path class="t" d="M574.6,425.2 A110,76 -14 0 1 366.1,464"/>
<path class="m" d="M430,410 L460,380 L510,370"/>
<path class="t" d="M455,400 L505,390"/>
<path class="m" d="M415,450 L450,440 L480,445 L530,420"/>
<circle class="f" cx="400" cy="430" r="6"/>
<ellipse class="m w" cx="724" cy="382" rx="138" ry="84" transform="rotate(-14 724 382)"/>
<ellipse class="t" cx="730" cy="372" rx="118" ry="72" transform="rotate(-14 730 372)"/>
<ellipse class="m w" cx="747" cy="342" rx="114" ry="78" transform="rotate(-14 747 342)"/>
<ellipse class="m w" cx="752" cy="320" rx="114" ry="78" transform="rotate(-14 752 320)"/>
<path class="t" d="M856.6,330.2 A110,76 -14 0 1 648.1,369"/>
<ellipse class="m w" cx="1007" cy="287" rx="138" ry="84" transform="rotate(-14 1007 287)"/>
<ellipse class="t" cx="1013" cy="277" rx="118" ry="72" transform="rotate(-14 1013 277)"/>
<ellipse class="m w" cx="1030" cy="247" rx="114" ry="78" transform="rotate(-14 1030 247)"/>
<ellipse class="m w" cx="1035" cy="225" rx="114" ry="78" transform="rotate(-14 1035 225)"/>
<path class="t" d="M1139.6,235.2 A110,76 -14 0 1 931.1,274"/>
<path class="m" d="M995,220 L1025,190 L1075,180"/>
<path class="t" d="M1020,210 L1070,200"/>
<path class="m" d="M980,260 L1015,250 L1045,255 L1095,230"/>
<circle class="f" cx="965" cy="240" r="6"/>
<ellipse class="m w" cx="547" cy="702" rx="138" ry="84" transform="rotate(-14 547 702)"/>
<ellipse class="t" cx="553" cy="692" rx="118" ry="72" transform="rotate(-14 553 692)"/>
<ellipse class="m w" cx="570" cy="662" rx="114" ry="78" transform="rotate(-14 570 662)"/>
<ellipse class="m w" cx="575" cy="640" rx="114" ry="78" transform="rotate(-14 575 640)"/>
<path class="t" d="M679.6,650.2 A110,76 -14 0 1 471.1,689"/>
<path class="m" d="M535,635 L565,605 L615,595"/>
<path class="t" d="M560,625 L610,615"/>
<path class="m" d="M520,675 L555,665 L585,670 L635,645"/>
<circle class="f" cx="505" cy="655" r="6"/>
<ellipse class="m w" cx="832" cy="610" rx="138" ry="84" transform="rotate(-14 832 610)"/>
<ellipse class="t" cx="838" cy="600" rx="118" ry="72" transform="rotate(-14 838 600)"/>
<ellipse class="m w" cx="855" cy="570" rx="114" ry="78" transform="rotate(-14 855 570)"/>
<ellipse class="m w" cx="860" cy="548" rx="114" ry="78" transform="rotate(-14 860 548)"/>
<path class="t" d="M964.6,558.2 A110,76 -14 0 1 756.1,597"/>
<ellipse class="m w" cx="1112" cy="517" rx="138" ry="84" transform="rotate(-14 1112 517)"/>
<ellipse class="t" cx="1118" cy="507" rx="118" ry="72" transform="rotate(-14 1118 507)"/>
<ellipse class="m w" cx="1135" cy="477" rx="114" ry="78" transform="rotate(-14 1135 477)"/>
<ellipse class="m w" cx="1140" cy="455" rx="114" ry="78" transform="rotate(-14 1140 455)"/>
<path class="t" d="M1244.6,465.2 A110,76 -14 0 1 1036.1,504"/>
<path class="m" d="M1100,450 L1130,420 L1180,410"/>
<path class="t" d="M1125,440 L1175,430"/>
<path class="m" d="M1085,490 L1120,480 L1150,485 L1200,460"/>
<circle class="f" cx="1070" cy="470" r="6"/>
<ellipse class="m w" cx="642" cy="932" rx="138" ry="84" transform="rotate(-14 642 932)"/>
<ellipse class="t" cx="648" cy="922" rx="118" ry="72" transform="rotate(-14 648 922)"/>
<ellipse class="m w" cx="665" cy="892" rx="114" ry="78" transform="rotate(-14 665 892)"/>
<ellipse class="m w" cx="670" cy="870" rx="114" ry="78" transform="rotate(-14 670 870)"/>
<path class="t" d="M774.6,880.2 A110,76 -14 0 1 566.1,919"/>
<path class="m" d="M630,865 L660,835 L710,825"/>
<path class="t" d="M655,855 L705,845"/>
<path class="m" d="M615,905 L650,895 L680,900 L730,875"/>
<circle class="f" cx="600" cy="885" r="6"/>
<ellipse class="m w" cx="932" cy="842" rx="138" ry="84" transform="rotate(-14 932 842)"/>
<ellipse class="t" cx="938" cy="832" rx="118" ry="72" transform="rotate(-14 938 832)"/>
<ellipse class="m w" cx="955" cy="802" rx="114" ry="78" transform="rotate(-14 955 802)"/>
<ellipse class="m w" cx="960" cy="780" rx="114" ry="78" transform="rotate(-14 960 780)"/>
<path class="t" d="M1064.6,790.2 A110,76 -14 0 1 856.1,829"/>
<ellipse class="m w" cx="1212" cy="752" rx="138" ry="84" transform="rotate(-14 1212 752)"/>
<ellipse class="t" cx="1218" cy="742" rx="118" ry="72" transform="rotate(-14 1218 742)"/>
<ellipse class="m w" cx="1235" cy="712" rx="114" ry="78" transform="rotate(-14 1235 712)"/>
<ellipse class="m w" cx="1240" cy="690" rx="114" ry="78" transform="rotate(-14 1240 690)"/>
<path class="t" d="M1344.6,700.2 A110,76 -14 0 1 1136.1,739"/>
<path class="m" d="M1200,685 L1230,655 L1280,645"/>
<path class="t" d="M1225,675 L1275,665"/>
<path class="m" d="M1185,725 L1220,715 L1250,720 L1300,695"/>
<circle class="f" cx="1170" cy="705" r="6"/>
<circle class="f" cx="435" cy="1180" r="15"/>
</g>

<!-- 61_pad12b -->
<g transform="translate(1390 920) scale(0.203327)">
<path class="k w" d="M70,640 C74.7,611.7 81.7,603.7 100,590 C118.3,576.3 146.7,567.2 180,558 C213.3,548.8 255,528 300,535 C345,542 393.3,557.5 450,600 C506.7,642.5 598.3,755 640,790 C681.7,825 682.5,798.3 700,810 C717.5,821.7 736.7,841.7 745,860 C753.3,878.3 749.2,910 750,920 C750.8,930 751.7,906.7 750,920 C748.3,933.3 751.7,978.3 740,1000 C728.3,1021.7 703.3,1037.5 680,1050 C656.7,1062.5 626.7,1070.3 600,1075 C573.3,1079.7 548.3,1082.2 520,1078 C491.7,1073.8 466.7,1065.5 430,1050 C393.3,1034.5 341.7,1010 300,985 C258.3,960 213.3,927.5 180,900 C146.7,872.5 118,843.3 100,820 C82,796.7 77,790 72,760 C67,730 65.3,668.3 70,640 Z"/>
<path class="m" d="M70,640 C73.3,650 78.3,680 90,700 C101.7,720 116.7,738.3 140,760 C163.3,781.7 195,806.7 230,830 C265,853.3 313.3,880.8 350,900 C386.7,919.2 418.3,933.3 450,945 C481.7,956.7 511.7,966.7 540,970 C568.3,973.3 593.3,970.8 620,965 C646.7,959.2 678.7,947.5 700,935 C721.3,922.5 740,897.5 748,890"/>
<ellipse class="m" cx="145" cy="712" rx="35" ry="22" transform="rotate(-10 145 712)"/>
<ellipse class="m" cx="270" cy="828" rx="35" ry="22" transform="rotate(-10 270 828)"/>
<ellipse class="m" cx="448" cy="922" rx="35" ry="22" transform="rotate(-10 448 922)"/>
<ellipse class="m" cx="683" cy="893" rx="45" ry="28" transform="rotate(-10 683 893)"/>
<ellipse class="m" cx="683" cy="893" rx="22" ry="14" transform="rotate(-10 683 893)"/>
<ellipse class="m w" cx="300" cy="694" rx="115" ry="57.5" transform="rotate(-12 300 694)"/>
<ellipse class="t" cx="300" cy="691" rx="104" ry="52" transform="rotate(-12 300 691)"/>
<path class="m w" d="M202.2,610.8 L202.2,710.8 A100.0,50.0 -12 0 0 397.8,669.2 L397.8,569.2 Z"/>
<ellipse class="m w" cx="300" cy="590" rx="100" ry="50" transform="rotate(-12 300 590)"/>
<path class="t" d="M394.3,593.8 A97,48.5 -12 0 1 211,632.8"/>
<ellipse class="m w" cx="402" cy="799" rx="109.2" ry="57.5" transform="rotate(-12 402 799)"/>
<ellipse class="t" cx="402" cy="796" rx="98.8" ry="52" transform="rotate(-12 402 796)"/>
<path class="m w" d="M309.1,719.8 L309.1,814.8 A95.0,50.0 -12 0 0 494.9,775.2 L494.9,680.2 Z"/>
<ellipse class="m w" cx="402" cy="700" rx="95" ry="50" transform="rotate(-12 402 700)"/>
<path class="t" d="M491.7,704.8 A92.1,48.5 -12 0 1 317.5,741.8"/>
<ellipse class="m w" cx="548" cy="874" rx="101.2" ry="57.5" transform="rotate(-15 548 874)"/>
<ellipse class="t" cx="548" cy="871" rx="91.5" ry="52" transform="rotate(-15 548 871)"/>
<path class="m w" d="M463.0,817.8 L463.0,892.8 A88.0,50.0 -15 0 0 633.0,847.2 L633.0,772.2 Z"/>
<ellipse class="m w" cx="548" cy="795" rx="88" ry="50" transform="rotate(-15 548 795)"/>
<path class="t" d="M630.9,796.8 A85.4,48.5 -15 0 1 471.6,839.5"/>
<circle class="f" cx="742" cy="965" r="14"/>
<path class="k w" d="M610,230 C611.7,206.7 608.3,205 620,190 C631.7,175 656.7,152.5 680,140 C703.3,127.5 723.3,121.7 760,115 C796.7,108.3 843.3,104.2 900,100 C956.7,95.8 1033.3,90 1100,90 C1166.7,90 1250,93.3 1300,100 C1350,106.7 1375,118.3 1400,130 C1425,141.7 1439.2,155 1450,170 C1460.8,185 1462.5,198.3 1465,220 C1467.5,241.7 1469.2,277.5 1465,300 C1460.8,322.5 1454.2,339.2 1440,355 C1425.8,370.8 1411.7,387.5 1380,395 C1348.3,402.5 1296.7,401.7 1250,400 C1203.3,398.3 1141.7,387.5 1100,385 C1058.3,382.5 1033.3,382.5 1000,385 C966.7,387.5 936.7,393.3 900,400 C863.3,406.7 813.3,422.5 780,425 C746.7,427.5 723.3,422.5 700,415 C676.7,407.5 655,394.2 640,380 C625,365.8 615,355 610,330 C605,305 608.3,253.3 610,230 Z"/>
<path class="m" d="M610,230 C615,240 625,274.2 640,290 C655,305.8 673.3,320 700,325 C726.7,330 758.3,325.8 800,320 C841.7,314.2 900,295.8 950,290 C1000,284.2 1050,283.3 1100,285 C1150,286.7 1203.3,295.8 1250,300 C1296.7,304.2 1348.3,313.3 1380,310 C1411.7,306.7 1425.8,295 1440,280 C1454.2,265 1460.8,230 1465,220"/>
<ellipse class="m" cx="695" cy="275" rx="45" ry="27" transform="rotate(-5 695 275)"/>
<ellipse class="m" cx="695" cy="275" rx="22" ry="13" transform="rotate(-5 695 275)"/>
<ellipse class="m" cx="1385" cy="245" rx="45" ry="27" transform="rotate(-5 1385 245)"/>
<ellipse class="m" cx="1385" cy="245" rx="22" ry="13" transform="rotate(-5 1385 245)"/>
<ellipse class="m w" cx="838" cy="249" rx="89.7" ry="63.2" transform="rotate(15 838 249)"/>
<ellipse class="t" cx="838" cy="246" rx="81.1" ry="57.2" transform="rotate(15 838 246)"/>
<path class="m w" d="M762.7,119.8 L762.7,224.8 A78.0,55.0 15 0 0 913.3,265.2 L913.3,160.2 Z"/>
<ellipse class="m w" cx="838" cy="140" rx="78" ry="55" transform="rotate(15 838 140)"/>
<path class="t" d="M905,184.4 A75.7,53.4 15 0 1 763.8,146.5"/>
<path class="m" d="M810.7,147.8 L830.2,124.4 L861.4,118.2"/>
<path class="m" d="M802.9,159.5 L873.1,143.9"/>
<path class="t" d="M826.3,136.1 L857.5,130.6"/>
<circle class="f" cx="799" cy="143.9" r="3.9"/>
<ellipse class="m w" cx="1033" cy="239" rx="83.9" ry="59.8" transform="rotate(10 1033 239)"/>
<ellipse class="t" cx="1033" cy="236" rx="75.9" ry="54.1" transform="rotate(10 1033 236)"/>
<path class="m w" d="M961.1,122.3 L961.1,222.3 A73.0,52.0 10 0 0 1104.9,247.7 L1104.9,147.7 Z"/>
<ellipse class="m w" cx="1033" cy="135" rx="73" ry="52" transform="rotate(10 1033 135)"/>
<path class="t" d="M1098.1,171.2 A70.8,50.4 10 0 1 963.4,147.4"/>
<path class="m" d="M1007.5,142.3 L1025.7,120.4 L1054.9,114.6"/>
<path class="m" d="M1000.1,153.2 L1065.8,138.7"/>
<path class="t" d="M1022,131.3 L1051.2,126.2"/>
<circle class="f" cx="996.5" cy="138.7" r="3.6"/>
<ellipse class="m w" cx="1232" cy="241" rx="83.9" ry="57.5" transform="rotate(-10 1232 241)"/>
<ellipse class="t" cx="1232" cy="238" rx="75.9" ry="52" transform="rotate(-10 1232 238)"/>
<path class="m w" d="M1160.1,167.7 L1160.1,249.7 A73.0,50.0 -10 0 0 1303.9,224.3 L1303.9,142.3 Z"/>
<ellipse class="m w" cx="1232" cy="155" rx="73" ry="50" transform="rotate(-10 1232 155)"/>
<path class="t" d="M1301.5,166.5 A70.8,48.5 -10 0 1 1166.8,190.2"/>
<path class="m" d="M1206.5,162.3 L1224.7,140.4 L1253.9,134.6"/>
<path class="m" d="M1199.2,173.2 L1264.8,158.7"/>
<path class="t" d="M1221,151.3 L1250.2,146.2"/>
<circle class="f" cx="1195.5" cy="158.7" r="3.6"/>
<circle class="f" cx="1022" cy="385" r="14"/>
</g>

<!-- 62_pad12c -->
<g transform="translate(1690 880) scale(0.203327)">
<path class="k w" d="M60,540 C62.5,518.3 66.7,502.5 80,490 C93.3,477.5 117.5,470.8 140,465 C162.5,459.2 178.3,454.2 215,455 C251.7,455.8 302.5,459.2 360,470 C417.5,480.8 496.7,504.2 560,520 C623.3,535.8 700,551.7 740,565 C780,578.3 784.2,587.5 800,600 C815.8,612.5 828.3,623.3 835,640 C841.7,656.7 839.5,678.3 840,700 C840.5,721.7 844.7,750.8 838,770 C831.3,789.2 819.7,801.7 800,815 C780.3,828.3 750,842.5 720,850 C690,857.5 650,862.5 620,860 C590,857.5 571.7,846.7 540,835 C508.3,823.3 470,802.5 430,790 C390,777.5 338.3,766.7 300,760 C261.7,753.3 227.5,753 200,750 C172.5,747 155,750.3 135,742 C115,733.7 91.7,720.3 80,700 C68.3,679.7 68.3,646.7 65,620 C61.7,593.3 57.5,561.7 60,540 Z"/>
<path class="m" d="M60,540 C64.2,550 71.7,583.3 85,600 C98.3,616.7 112.5,629.2 140,640 C167.5,650.8 206.7,656.7 250,665 C293.3,673.3 355,680 400,690 C445,700 486.7,713.3 520,725 C553.3,736.7 573.3,752.5 600,760 C626.7,767.5 651.7,772.5 680,770 C708.3,767.5 745,758.3 770,745 C795,731.7 820,699.2 830,690"/>
<ellipse class="m" cx="258" cy="635" rx="38" ry="22"/>
<ellipse class="m" cx="405" cy="657" rx="38" ry="22"/>
<ellipse class="m" cx="540" cy="702" rx="38" ry="22"/>
<ellipse class="m" cx="120" cy="533" rx="42" ry="25"/>
<ellipse class="m" cx="120" cy="533" rx="22" ry="13"/>
<ellipse class="m" cx="758" cy="690" rx="42" ry="25"/>
<ellipse class="m" cx="758" cy="690" rx="22" ry="13"/>
<ellipse class="m w" cx="285" cy="562" rx="92" ry="46"/>
<ellipse class="t" cx="285" cy="556" rx="78" ry="40"/>
<path class="m w" d="M210,500 L212,545 A73,36 0 0 0 358,545 L356,500 A73,68 0 0 0 210,500 Z"/>
<path class="t" d="M356.9,506.3 A73,36 0 0 1 213.1,506.3"/>
<ellipse class="m w" cx="470" cy="589" rx="92" ry="59.8" transform="rotate(-12 470 589)"/>
<ellipse class="t" cx="470" cy="586" rx="83.2" ry="54.1" transform="rotate(-12 470 586)"/>
<path class="m w" d="M391.7,531.6 L391.7,601.6 A80.0,52.0 -12 0 0 548.3,568.4 L548.3,498.4 Z"/>
<ellipse class="m w" cx="470" cy="515" rx="80" ry="52" transform="rotate(-12 470 515)"/>
<path class="t" d="M546,523.6 A77.6,50.4 -12 0 1 399.4,554.8"/>
<path class="m" d="M442,523 L462,499 L494,492.6"/>
<path class="m" d="M434,535 L506,519"/>
<path class="t" d="M458,511 L490,505.4"/>
<circle class="f" cx="430" cy="519" r="4"/>
<ellipse class="m w" cx="640" cy="639" rx="97.7" ry="57.5" transform="rotate(-8 640 639)"/>
<ellipse class="t" cx="640" cy="636" rx="88.4" ry="52" transform="rotate(-8 640 636)"/>
<path class="m w" d="M555.8,581.8 L555.8,646.8 A85.0,50.0 -8 0 0 724.2,623.2 L724.2,558.2 Z"/>
<ellipse class="m w" cx="640" cy="570" rx="85" ry="50" transform="rotate(-8 640 570)"/>
<path class="t" d="M720.6,582.3 A82.5,48.5 -8 0 1 562.9,604.5"/>
<path class="m" d="M610.2,578.5 L631.5,553 L665.5,546.2"/>
<path class="m" d="M601.8,591.2 L678.2,574.2"/>
<path class="t" d="M627.2,565.8 L661.2,559.8"/>
<circle class="f" cx="597.5" cy="574.2" r="4.2"/>
<circle class="f" cx="105" cy="733" r="14"/>
<path class="k w" d="M855,300 C855,276.7 860.8,246.7 870,220 C879.2,193.3 893.3,160.8 910,140 C926.7,119.2 948.3,105 970,95 C991.7,85 1015,79.2 1040,80 C1065,80.8 1093.3,88.3 1120,100 C1146.7,111.7 1173.3,130 1200,150 C1226.7,170 1255,195 1280,220 C1305,245 1328.3,270 1350,300 C1371.7,330 1394.2,366.7 1410,400 C1425.8,433.3 1440,471.7 1445,500 C1450,528.3 1447.5,550 1440,570 C1432.5,590 1418.3,606.7 1400,620 C1381.7,633.3 1356.7,640.8 1330,650 C1303.3,659.2 1267.5,674.2 1240,675 C1212.5,675.8 1183.3,662.5 1165,655 C1146.7,647.5 1142.5,640.8 1130,630 C1117.5,619.2 1103.3,608.3 1090,590 C1076.7,571.7 1066.7,543.3 1050,520 C1033.3,496.7 1011.7,468.3 990,450 C968.3,431.7 940,425 920,410 C900,395 880.8,378.3 870,360 C859.2,341.7 855,323.3 855,300 Z"/>
<path class="t" d="M905,160 C900.8,176.7 882.5,231.7 880,260 C877.5,288.3 880,308.3 890,330 C900,351.7 920,373.3 940,390 C960,406.7 990,413.3 1010,430 C1030,446.7 1045,466.7 1060,490 C1075,513.3 1085,548.3 1100,570 C1115,591.7 1126.7,608.3 1150,620 C1173.3,631.7 1210,640.8 1240,640 C1270,639.2 1305.8,628.3 1330,615 C1354.2,601.7 1375.8,582.5 1385,560 C1394.2,537.5 1392.5,518.3 1385,480 C1377.5,441.7 1362.5,376.7 1340,330 C1317.5,283.3 1283.3,235 1250,200 C1216.7,165 1158.3,133.3 1140,120"/>
<ellipse class="m" cx="940" cy="180" rx="30" ry="36" transform="rotate(20 940 180)"/>
<ellipse class="m" cx="968" cy="355" rx="30" ry="36" transform="rotate(20 968 355)"/>
<ellipse class="m" cx="1055" cy="420" rx="30" ry="36" transform="rotate(20 1055 420)"/>
<ellipse class="m" cx="1118" cy="508" rx="30" ry="36" transform="rotate(20 1118 508)"/>
<ellipse class="m" cx="1290" cy="530" rx="36" ry="42" transform="rotate(20 1290 530)"/>
<ellipse class="m" cx="1290" cy="530" rx="20" ry="25" transform="rotate(20 1290 530)"/>
<ellipse class="m w" cx="1052" cy="215" rx="98.6" ry="57.5" transform="rotate(-58 1052 215)"/>
<ellipse class="m w" cx="1038" cy="197" rx="88" ry="50" transform="rotate(-58 1038 197)"/>
<ellipse class="m w" cx="1030" cy="185" rx="88" ry="50" transform="rotate(-58 1030 185)"/>
<ellipse class="t" cx="1030" cy="185" rx="74.8" ry="40" transform="rotate(-58 1030 185)"/>
<path class="f" d="M1020,180 l18,-22 l14,18 l-12,22 Z"/>
<ellipse class="m w" cx="1162" cy="295" rx="103" ry="59.8" transform="rotate(-50 1162 295)"/>
<ellipse class="m w" cx="1148" cy="277" rx="92" ry="52" transform="rotate(-50 1148 277)"/>
<ellipse class="m w" cx="1140" cy="265" rx="92" ry="52" transform="rotate(-50 1140 265)"/>
<ellipse class="t" cx="1140" cy="265" rx="78.2" ry="41.6" transform="rotate(-50 1140 265)"/>
<path class="f" d="M1130,260 l18,-22 l14,18 l-12,22 Z"/>
<ellipse class="m w" cx="1247" cy="415" rx="109.8" ry="64.4" transform="rotate(-40 1247 415)"/>
<ellipse class="m w" cx="1233" cy="397" rx="98" ry="56" transform="rotate(-40 1233 397)"/>
<ellipse class="m w" cx="1225" cy="385" rx="98" ry="56" transform="rotate(-40 1225 385)"/>
<ellipse class="t" cx="1225" cy="385" rx="83.3" ry="44.8" transform="rotate(-40 1225 385)"/>
<path class="f" d="M1215,380 l18,-22 l14,18 l-12,22 Z"/>
<circle class="f" cx="1198" cy="665" r="14"/>
</g>

<!-- 65_pad78 -->
<g transform="translate(1265 1270) scale(0.246457)">
<path class="k" d="M215,910 C198.8,915.8 142.2,951.7 118,945 C93.8,938.3 81,912.5 70,870 C59,827.5 53.7,738.3 52,690 C50.3,641.7 55.3,615 60,580 C64.7,545 71.7,512.5 80,480 C88.3,447.5 98.3,404.2 110,385 C121.7,365.8 133.3,365 150,365 C166.7,365 200,381.7 210,385"/>
<path class="t" d="M128,940 C120.8,928.3 95,911.7 85,870 C75,828.3 69.5,738.3 68,690 C66.5,641.7 71.3,615 76,580 C80.7,545 88.3,510 96,480 C103.7,450 117.7,413.3 122,400"/>
<ellipse class="m" cx="162" cy="405" rx="22" ry="16" transform="rotate(-20 162 405)"/>
<ellipse class="m" cx="128" cy="900" rx="22" ry="16" transform="rotate(-20 128 900)"/>
<path class="m w" d="M280,327.5 Q255,320 243.3,343.3 L215,400 L190,520 L185,650 L200,800 L221.6,880.8 Q228,905 249.5,892.3 L544.9,717.8 Q575,700 554.2,671.9 L316.9,351.1 Q305,335 285.8,329.3 Z"/>
<path class="k" d="M255,320 C248.3,333.3 225.8,366.7 215,400 C204.2,433.3 195,478.3 190,520 C185,561.7 183.3,603.3 185,650 C186.7,696.7 193.3,759.2 200,800 C206.7,840.8 220.8,879.2 225,895"/>
<path class="k" d="M320,350 L565,670"/>
<path class="k" d="M225,895 C226.7,896.7 230.8,903.3 235,905 C239.2,906.7 247.5,905 250,905"/>
<path class="m" d="M250,905 L560,722"/>
<path class="m" d="M560,722 C562.5,718.3 574.2,708.7 575,700 C575.8,691.3 566.7,675 565,670"/>
<path class="f" d="M220,760 L250,735 L290,730 L320,750 L330,785 L365,790 L360,810 L300,840 L270,800 L245,790 Z"/>
<circle class="f" cx="118" cy="378" r="14"/>
<circle class="f" cx="292" cy="335" r="14"/>
<path class="m w" d="M587,367 Q574,340 583.5,311.5 L584,310 Q594,280 624,270 L1243.7,63.4 Q1284,50 1321.5,70 L1321.5,70 Q1359,90 1377.6,128.2 L1532.8,446.8 Q1549,480 1531.5,512.5 L1531.5,512.5 Q1514,545 1479.2,557.2 L887.3,764.8 Q844,780 804,757.5 L790.1,749.7 Q764,735 751,708 Z"/>
<path class="k w" d="M593,357 Q580,330 589.5,301.5 L590,300 Q600,270 630,260 L1249.7,53.4 Q1290,40 1327.5,60 L1327.5,60 Q1365,80 1383.6,118.2 L1538.8,436.8 Q1555,470 1537.5,502.5 L1537.5,502.5 Q1520,535 1485.2,547.2 L893.3,754.8 Q850,770 810,747.5 L796.1,739.7 Q770,725 757,698 Z"/>
<ellipse class="m" cx="635" cy="300" rx="23" ry="18" transform="rotate(-20 635 300)"/>
<ellipse class="m" cx="1280" cy="85" rx="23" ry="18" transform="rotate(-20 1280 85)"/>
<ellipse class="m" cx="1490" cy="497" rx="23" ry="18" transform="rotate(-20 1490 497)"/>
<ellipse class="m" cx="848" cy="712" rx="23" ry="18" transform="rotate(-20 848 712)"/>
<ellipse class="k" cx="668" cy="355" rx="10" ry="13" transform="rotate(-20 668 355)"/>
<ellipse class="k" cx="1315" cy="140" rx="10" ry="13" transform="rotate(-20 1315 140)"/>
<ellipse class="k" cx="1390" cy="290" rx="10" ry="13" transform="rotate(-20 1390 290)"/>
<ellipse class="k" cx="745" cy="505" rx="10" ry="13" transform="rotate(-20 745 505)"/>
<ellipse class="k" cx="820" cy="652" rx="10" ry="13" transform="rotate(-20 820 652)"/>
<ellipse class="k" cx="930" cy="355" rx="10" ry="13" transform="rotate(-20 930 355)"/>
<ellipse class="k" cx="1125" cy="290" rx="10" ry="13" transform="rotate(-20 1125 290)"/>
<ellipse class="k" cx="1005" cy="500" rx="10" ry="13" transform="rotate(-20 1005 500)"/>
<ellipse class="k" cx="1200" cy="437" rx="10" ry="13" transform="rotate(-20 1200 437)"/>
<path class="k" d="M690,590 L685,615 L705,625"/>
<path class="k" d="M745,700 L740,725 L760,720"/>
<path class="m w" d="M710,287 L848,237 L908,364 L772,417 Z"/>
<path class="t" d="M710,265 L710,287"/>
<path class="t" d="M848,215 L848,237"/>
<path class="t" d="M908,342 L908,364"/>
<path class="t" d="M772,395 L772,417"/>
<path class="m w" d="M710,265 L848,215 L908,342 L772,395 Z"/>
<ellipse class="m" cx="810" cy="295" rx="55" ry="50"/>
<ellipse class="t" cx="810" cy="297" rx="47.3" ry="43"/>
<path class="m w" d="M905,217 L1043,167 L1103,294 L967,347 Z"/>
<path class="t" d="M905,195 L905,217"/>
<path class="t" d="M1043,145 L1043,167"/>
<path class="t" d="M1103,272 L1103,294"/>
<path class="t" d="M967,325 L967,347"/>
<path class="m w" d="M905,195 L1043,145 L1103,272 L967,325 Z"/>
<ellipse class="m" cx="1005" cy="225" rx="55" ry="50"/>
<ellipse class="t" cx="1005" cy="227" rx="47.3" ry="43"/>
<path class="m w" d="M1095,152 L1233,102 L1293,229 L1157,282 Z"/>
<path class="t" d="M1095,130 L1095,152"/>
<path class="t" d="M1233,80 L1233,102"/>
<path class="t" d="M1293,207 L1293,229"/>
<path class="t" d="M1157,260 L1157,282"/>
<path class="m w" d="M1095,130 L1233,80 L1293,207 L1157,260 Z"/>
<ellipse class="m" cx="1195" cy="160" rx="55" ry="50"/>
<ellipse class="t" cx="1195" cy="162" rx="47.3" ry="43"/>
<path class="m w" d="M785,432 L923,382 L983,509 L847,562 Z"/>
<path class="t" d="M785,410 L785,432"/>
<path class="t" d="M923,360 L923,382"/>
<path class="t" d="M983,487 L983,509"/>
<path class="t" d="M847,540 L847,562"/>
<path class="m w" d="M785,410 L923,360 L983,487 L847,540 Z"/>
<ellipse class="m" cx="885" cy="440" rx="55" ry="50"/>
<ellipse class="t" cx="885" cy="442" rx="47.3" ry="43"/>
<path class="m w" d="M975,367 L1113,317 L1173,444 L1037,497 Z"/>
<path class="t" d="M975,345 L975,367"/>
<path class="t" d="M1113,295 L1113,317"/>
<path class="t" d="M1173,422 L1173,444"/>
<path class="t" d="M1037,475 L1037,497"/>
<path class="m w" d="M975,345 L1113,295 L1173,422 L1037,475 Z"/>
<ellipse class="m" cx="1075" cy="375" rx="55" ry="50"/>
<ellipse class="t" cx="1075" cy="377" rx="47.3" ry="43"/>
<path class="m w" d="M1165,297 L1303,247 L1363,374 L1227,427 Z"/>
<path class="t" d="M1165,275 L1165,297"/>
<path class="t" d="M1303,225 L1303,247"/>
<path class="t" d="M1363,352 L1363,374"/>
<path class="t" d="M1227,405 L1227,427"/>
<path class="m w" d="M1165,275 L1303,225 L1363,352 L1227,405 Z"/>
<ellipse class="m" cx="1265" cy="305" rx="55" ry="50"/>
<ellipse class="t" cx="1265" cy="307" rx="47.3" ry="43"/>
<path class="m w" d="M860,577 L998,527 L1058,654 L922,707 Z"/>
<path class="t" d="M860,555 L860,577"/>
<path class="t" d="M998,505 L998,527"/>
<path class="t" d="M1058,632 L1058,654"/>
<path class="t" d="M922,685 L922,707"/>
<path class="m w" d="M860,555 L998,505 L1058,632 L922,685 Z"/>
<ellipse class="m" cx="960" cy="585" rx="55" ry="50"/>
<ellipse class="t" cx="960" cy="587" rx="47.3" ry="43"/>
<path class="m w" d="M1050,512 L1188,462 L1248,589 L1112,642 Z"/>
<path class="t" d="M1050,490 L1050,512"/>
<path class="t" d="M1188,440 L1188,462"/>
<path class="t" d="M1248,567 L1248,589"/>
<path class="t" d="M1112,620 L1112,642"/>
<path class="m w" d="M1050,490 L1188,440 L1248,567 L1112,620 Z"/>
<ellipse class="m" cx="1150" cy="520" rx="55" ry="50"/>
<ellipse class="t" cx="1150" cy="522" rx="47.3" ry="43"/>
<path class="m w" d="M1245,442 L1383,392 L1443,519 L1307,572 Z"/>
<path class="t" d="M1245,420 L1245,442"/>
<path class="t" d="M1383,370 L1383,392"/>
<path class="t" d="M1443,497 L1443,519"/>
<path class="t" d="M1307,550 L1307,572"/>
<path class="m w" d="M1245,420 L1383,370 L1443,497 L1307,550 Z"/>
<ellipse class="m" cx="1345" cy="450" rx="55" ry="50"/>
<ellipse class="t" cx="1345" cy="452" rx="47.3" ry="43"/>
<circle class="f" cx="877" cy="160" r="13"/>
</g>

<!-- 66_pad11 -->
<g transform="translate(1380 1420) scale(0.209489)">
<path class="m w" d="M615,262 C610.8,243.7 614.2,227 625,212 C635.8,197 654.2,183.7 680,172 C705.8,160.3 735,151.2 780,142 C825,132.8 894.2,122 950,117 C1005.8,112 1085,114.8 1115,112 C1145,109.2 1090.8,100 1130,100 C1169.2,100 1305,105 1350,112 C1395,119 1385,127 1400,142 C1415,157 1433.3,182 1440,202 C1446.7,222 1446.7,243.7 1440,262 C1433.3,280.3 1418.3,298.7 1400,312 C1381.7,325.3 1363.3,340.3 1330,342 C1296.7,343.7 1246.7,327 1200,322 C1153.3,317 1100,310.3 1050,312 C1000,313.7 941.7,323.7 900,332 C858.3,340.3 830,357 800,362 C770,367 745,368.7 720,362 C695,355.3 667.5,338.7 650,322 C632.5,305.3 619.2,280.3 615,262 Z"/>
<path class="k w" d="M615,250 C610.8,231.7 614.2,215 625,200 C635.8,185 654.2,171.7 680,160 C705.8,148.3 735,139.2 780,130 C825,120.8 894.2,110 950,105 C1005.8,100 1085,102.8 1115,100 C1145,97.2 1090.8,88 1130,88 C1169.2,88 1305,93 1350,100 C1395,107 1385,115 1400,130 C1415,145 1433.3,170 1440,190 C1446.7,210 1446.7,231.7 1440,250 C1433.3,268.3 1418.3,286.7 1400,300 C1381.7,313.3 1363.3,328.3 1330,330 C1296.7,331.7 1246.7,315 1200,310 C1153.3,305 1100,298.3 1050,300 C1000,301.7 941.7,311.7 900,320 C858.3,328.3 830,345 800,350 C770,355 745,356.7 720,350 C695,343.3 667.5,326.7 650,310 C632.5,293.3 619.2,268.3 615,250 Z"/>
<ellipse class="m" cx="700" cy="288" rx="25" ry="15"/>
<ellipse class="m" cx="1365" cy="260" rx="25" ry="15"/>
<path class="m w" d="M730,218 L890,190 L945,275 L790,310 Z"/>
<path class="t" d="M730,178 L730,218"/>
<path class="t" d="M890,150 L890,190"/>
<path class="t" d="M945,235 L945,275"/>
<path class="t" d="M790,270 L790,310"/>
<path class="m w" d="M730,178 L890,150 L945,235 L790,270 Z"/>
<ellipse class="m" cx="840" cy="205" rx="65" ry="40"/>
<ellipse class="t" cx="840" cy="207" rx="55.9" ry="34.4"/>
<path class="m w" d="M930,180 L1110,170 L1115,270 L950,285 Z"/>
<path class="t" d="M930,140 L930,180"/>
<path class="t" d="M1110,130 L1110,170"/>
<path class="t" d="M1115,230 L1115,270"/>
<path class="t" d="M950,245 L950,285"/>
<path class="m w" d="M930,140 L1110,130 L1115,230 L950,245 Z"/>
<ellipse class="m" cx="1025" cy="185" rx="65" ry="40"/>
<ellipse class="t" cx="1025" cy="187" rx="55.9" ry="34.4"/>
<path class="m w" d="M1140,178 L1320,193 L1280,298 L1125,273 Z"/>
<path class="t" d="M1140,140 L1140,178"/>
<path class="t" d="M1320,155 L1320,193"/>
<path class="t" d="M1280,260 L1280,298"/>
<path class="t" d="M1125,235 L1125,273"/>
<path class="m w" d="M1140,140 L1320,155 L1280,260 L1125,235 Z"/>
<ellipse class="m" cx="1215" cy="195" rx="65" ry="40"/>
<ellipse class="t" cx="1215" cy="197" rx="55.9" ry="34.4"/>
<circle class="f" cx="775" cy="352" r="14"/>
<path class="k" d="M90,690 L95,740 L110,740 L110,705"/>
<path class="k" d="M190,790 L195,850 L245,835 L245,810"/>
<path class="m w" d="M60,642 C61.7,627 98.3,623.7 110,612 C121.7,600.3 118.3,583.7 130,572 C141.7,560.3 158.3,549.5 180,542 C201.7,534.5 226.7,527 260,527 C293.3,527 351.7,532.8 380,542 C408.3,551.2 410,563.7 430,582 C450,600.3 471.7,628.7 500,652 C528.3,675.3 568.3,702 600,722 C631.7,742 666.7,758.7 690,772 C713.3,785.3 727.5,790.3 740,802 C752.5,813.7 761.7,827 765,842 C768.3,857 767.5,877 760,892 C752.5,907 740,921.2 720,932 C700,942.8 670,952 640,957 C610,962 573.3,967 540,962 C506.7,957 475,942 440,927 C405,912 361.7,889.5 330,872 C298.3,854.5 271.7,837 250,822 C228.3,807 225,802 200,782 C175,762 123.3,725.3 100,702 C76.7,678.7 58.3,657 60,642 Z"/>
<path class="k w" d="M60,630 C61.7,615 98.3,611.7 110,600 C121.7,588.3 118.3,571.7 130,560 C141.7,548.3 158.3,537.5 180,530 C201.7,522.5 226.7,515 260,515 C293.3,515 351.7,520.8 380,530 C408.3,539.2 410,551.7 430,570 C450,588.3 471.7,616.7 500,640 C528.3,663.3 568.3,690 600,710 C631.7,730 666.7,746.7 690,760 C713.3,773.3 727.5,778.3 740,790 C752.5,801.7 761.7,815 765,830 C768.3,845 767.5,865 760,880 C752.5,895 740,909.2 720,920 C700,930.8 670,940 640,945 C610,950 573.3,955 540,950 C506.7,945 475,930 440,915 C405,900 361.7,877.5 330,860 C298.3,842.5 271.7,825 250,810 C228.3,795 225,790 200,770 C175,750 123.3,713.3 100,690 C76.7,666.7 58.3,645 60,630 Z"/>
<ellipse class="k" cx="178" cy="662" rx="12" ry="14"/>
<ellipse class="k" cx="300" cy="780" rx="12" ry="14"/>
<ellipse class="k" cx="470" cy="872" rx="12" ry="14"/>
<ellipse class="m" cx="700" cy="850" rx="25" ry="15"/>
<path class="m w" d="M215,605 L340,570 L430,655 L290,685 Z"/>
<path class="t" d="M215,570 L215,605"/>
<path class="t" d="M340,535 L340,570"/>
<path class="t" d="M430,620 L430,655"/>
<path class="t" d="M290,650 L290,685"/>
<path class="m w" d="M215,570 L340,535 L430,620 L290,650 Z"/>
<ellipse class="m" cx="330" cy="585" rx="66" ry="40"/>
<ellipse class="t" cx="330" cy="587" rx="56.8" ry="34.4"/>
<path class="m w" d="M310,715 L440,675 L530,745 L410,795 Z"/>
<path class="t" d="M310,680 L310,715"/>
<path class="t" d="M440,640 L440,675"/>
<path class="t" d="M530,710 L530,745"/>
<path class="t" d="M410,760 L410,795"/>
<path class="m w" d="M310,680 L440,640 L530,710 L410,760 Z"/>
<ellipse class="m" cx="425" cy="685" rx="66" ry="40"/>
<ellipse class="t" cx="425" cy="687" rx="56.8" ry="34.4"/>
<path class="m w" d="M450,815 L560,755 L690,805 L580,865 Z"/>
<path class="t" d="M450,780 L450,815"/>
<path class="t" d="M560,720 L560,755"/>
<path class="t" d="M690,770 L690,805"/>
<path class="t" d="M580,830 L580,865"/>
<path class="m w" d="M450,780 L560,720 L690,770 L580,830 Z"/>
<ellipse class="m" cx="565" cy="765" rx="66" ry="40"/>
<ellipse class="t" cx="565" cy="767" rx="56.8" ry="34.4"/>
<circle class="f" cx="645" cy="730" r="14"/>
</g>

<!-- 67_pad910 -->
<g transform="translate(1660 1240) scale(0.221811)">
<path class="m w" d="M115.7,243.5 Q110,212 130,187 L137.5,177.6 Q150,162 169.9,159.8 L466.3,127.7 Q500,124 524,148 L533.9,157.9 Q548,172 551.4,191.7 L591.8,426.2 Q598,462 579,493 L575.7,498.4 Q560,524 530.3,528.5 L212.9,577.3 Q195,580 183.5,566 L178.3,559.7 Q172,552 170.2,542.2 Z"/>
<path class="k w" d="M115.7,231.5 Q110,200 130,175 L137.5,165.6 Q150,150 169.9,147.8 L466.3,115.7 Q500,112 524,136 L533.9,145.9 Q548,160 551.4,179.7 L591.8,414.2 Q598,450 579,481 L575.7,486.4 Q560,512 530.3,516.5 L212.9,565.3 Q195,568 183.5,554 L178.3,547.7 Q172,540 170.2,530.2 Z"/>
<ellipse class="m" cx="355" cy="330" rx="205" ry="185" transform="rotate(-10 355 330)"/>
<ellipse class="m" cx="165" cy="195" rx="28" ry="22" transform="rotate(-10 165 195)"/>
<ellipse class="m" cx="500" cy="150" rx="28" ry="22" transform="rotate(-10 500 150)"/>
<ellipse class="m" cx="545" cy="455" rx="28" ry="22" transform="rotate(-10 545 455)"/>
<ellipse class="m" cx="215" cy="495" rx="28" ry="22" transform="rotate(-10 215 495)"/>
<path class="m" d="M370,520 L372,545 L400,543 L400,518"/>
<path class="m w" d="M215,290 L222,405 A140,58 0 0 0 500,400 L500,290 Z"/>
<path class="m" d="M498.5,345.1 A141,58 0 0 1 217.5,345.1"/>
<path class="m" d="M498.5,377.1 A141,58 0 0 1 217.5,377.1"/>
<path class="m" d="M498.5,403.1 A141,58 0 0 1 217.5,403.1"/>
<path class="m" d="M498.5,427.1 A141,58 0 0 1 217.5,427.1"/>
<path class="t" d="M476.2,445.3 A120,42 0 0 1 239.8,445.3"/>
<path class="k w" d="M245,205 L246,318 A126,52 0 0 0 497,318 L497,205 Z"/>
<path class="t" d="M495.8,307.2 A126,52 0 0 1 246.2,307.2"/>
<ellipse class="f" cx="370" cy="205" rx="127" ry="116"/>
<ellipse class="m w" cx="368" cy="240" rx="63" ry="58"/>
<circle cx="292" cy="125" r="24" fill="#fff"/>
<circle class="f" cx="292" cy="125" r="14"/>
<path class="m" d="M292,125 L175,0"/>
<path class="k" d="M365,1055 L370,1115 L385,1115 L405,1065"/>
<path class="k" d="M570,1100 L572,1140 L590,1140 L600,1105"/>
<path class="m w" d="M185,894 C183.3,874 187.5,873.2 200,864 C212.5,854.8 238.3,845.3 260,839 C281.7,832.7 295,827.7 330,826 C365,824.3 414.2,821 470,829 C525.8,837 605,855.7 665,874 C725,892.3 794.2,921.5 830,939 C865.8,956.5 870.8,959.8 880,979 C889.2,998.2 890,1036.5 885,1054 C880,1071.5 870.8,1073.2 850,1084 C829.2,1094.8 793.3,1112.3 760,1119 C726.7,1125.7 686.7,1126.5 650,1124 C613.3,1121.5 581.7,1114 540,1104 C498.3,1094 446.7,1077.3 400,1064 C353.3,1050.7 291.7,1037.3 260,1024 C228.3,1010.7 222.5,1005.7 210,984 C197.5,962.3 186.7,914 185,894 Z"/>
<path class="k w" d="M185,880 C183.3,860 187.5,859.2 200,850 C212.5,840.8 238.3,831.3 260,825 C281.7,818.7 295,813.7 330,812 C365,810.3 414.2,807 470,815 C525.8,823 605,841.7 665,860 C725,878.3 794.2,907.5 830,925 C865.8,942.5 870.8,945.8 880,965 C889.2,984.2 890,1022.5 885,1040 C880,1057.5 870.8,1059.2 850,1070 C829.2,1080.8 793.3,1098.3 760,1105 C726.7,1111.7 686.7,1112.5 650,1110 C613.3,1107.5 581.7,1100 540,1090 C498.3,1080 446.7,1063.3 400,1050 C353.3,1036.7 291.7,1023.3 260,1010 C228.3,996.7 222.5,991.7 210,970 C197.5,948.3 186.7,900 185,880 Z"/>
<ellipse class="m" cx="235" cy="888" rx="25" ry="15"/>
<ellipse class="m" cx="818" cy="1033" rx="25" ry="15"/>
<path class="f" d="M348,980 l14,-18 l14,18 Z"/>
<path class="f" d="M483,1003 l14,-18 l14,18 Z"/>
<path class="f" d="M604,1045 l14,-18 l14,18 Z"/>
<path class="m w" d="M315,840 L470,850 L455,940 L295,930 Z"/>
<path class="t" d="M315,805 L315,840"/>
<path class="t" d="M470,815 L470,850"/>
<path class="t" d="M455,905 L455,940"/>
<path class="t" d="M295,895 L295,930"/>
<path class="m w" d="M315,805 L470,815 L455,905 L295,895 Z"/>
<ellipse class="m" cx="385" cy="855" rx="62" ry="40"/>
<ellipse class="t" cx="385" cy="857" rx="53.3" ry="34.4"/>
<path class="m w" d="M505,860 L665,895 L625,970 L470,940 Z"/>
<path class="t" d="M505,825 L505,860"/>
<path class="t" d="M665,860 L665,895"/>
<path class="t" d="M625,935 L625,970"/>
<path class="t" d="M470,905 L470,940"/>
<path class="m w" d="M505,825 L665,860 L625,935 L470,905 Z"/>
<ellipse class="m" cx="560" cy="880" rx="62" ry="40"/>
<ellipse class="t" cx="560" cy="882" rx="53.3" ry="34.4"/>
<path class="m w" d="M700,915 L825,965 L730,1035 L610,985 Z"/>
<path class="t" d="M700,880 L700,915"/>
<path class="t" d="M825,930 L825,965"/>
<path class="t" d="M730,1000 L730,1035"/>
<path class="t" d="M610,950 L610,985"/>
<path class="m w" d="M700,880 L825,930 L730,1000 L610,950 Z"/>
<ellipse class="m" cx="715" cy="935" rx="64" ry="40"/>
<ellipse class="t" cx="715" cy="937" rx="55" ry="34.4"/>
<circle class="f" cx="882" cy="995" r="14"/>
<path class="k w" d="M960,640 C958.3,616.7 966.7,586.7 975,560 C983.3,533.3 995.8,500.8 1010,480 C1024.2,459.2 1041.7,445.3 1060,435 C1078.3,424.7 1096.7,417.2 1120,418 C1143.3,418.8 1170,424.7 1200,440 C1230,455.3 1270,483.3 1300,510 C1330,536.7 1356.7,568.3 1380,600 C1403.3,631.7 1426.7,670 1440,700 C1453.3,730 1460,755 1460,780 C1460,805 1453.3,831.7 1440,850 C1426.7,868.3 1405,879.2 1380,890 C1355,900.8 1317.5,910 1290,915 C1262.5,920 1231.7,923.3 1215,920 C1198.3,916.7 1217.5,921.7 1190,895 C1162.5,868.3 1084.2,792.5 1050,760 C1015.8,727.5 1000,720 985,700 C970,680 961.7,663.3 960,640 Z"/>
<path class="t" d="M1215,905 C1227.5,904.2 1263.3,905 1290,900 C1316.7,895 1351.7,885 1375,875 C1398.3,865 1418.3,855.8 1430,840 C1441.7,824.2 1442.5,790 1445,780"/>
<ellipse class="m" cx="1045" cy="510" rx="18" ry="23" transform="rotate(20 1045 510)"/>
<ellipse class="m" cx="1362" cy="830" rx="16" ry="24" transform="rotate(35 1362 830)"/>
<ellipse class="k" cx="1065" cy="665" rx="11" ry="14" transform="rotate(-30 1065 665)"/>
<ellipse class="k" cx="1145" cy="722" rx="11" ry="14" transform="rotate(-30 1145 722)"/>
<ellipse class="k" cx="1205" cy="805" rx="11" ry="14" transform="rotate(-30 1205 805)"/>
<path class="m w" d="M1096,457 L1221,527 L1126,627 L1021,577 Z"/>
<path class="m w" d="M1110,435 L1235,505 L1140,605 L1035,555 Z"/>
<ellipse class="m" cx="1125" cy="515" rx="52" ry="58" transform="rotate(30 1125 515)"/>
<ellipse class="t" cx="1123" cy="517" rx="44.7" ry="49.9" transform="rotate(30 1123 517)"/>
<path class="m w" d="M1226,527 L1326,607 L1216,712 L1126,632 Z"/>
<path class="m w" d="M1240,505 L1340,585 L1230,690 L1140,610 Z"/>
<ellipse class="m" cx="1230" cy="595" rx="52" ry="58" transform="rotate(30 1230 595)"/>
<ellipse class="t" cx="1228" cy="597" rx="44.7" ry="49.9" transform="rotate(30 1228 597)"/>
<path class="m w" d="M1331,622 L1401,752 L1276,842 L1201,712 Z"/>
<path class="m w" d="M1345,600 L1415,730 L1290,820 L1215,690 Z"/>
<ellipse class="m" cx="1305" cy="700" rx="55" ry="60" transform="rotate(30 1305 700)"/>
<ellipse class="t" cx="1303" cy="702" rx="47.3" ry="51.6" transform="rotate(30 1303 702)"/>
<circle class="f" cx="1215" cy="920" r="14"/>
</g>

<!-- 70_item14 -->
<g transform="translate(330 1440) scale(0.073937)">
<path class="k w" d="M465,1160 L465,1250 L500,1280 L525,1270 L525,1165"/>
<ellipse class="f" cx="650" cy="1170" rx="35" ry="28"/>
<path class="k w" d="M280,790 L350,960 L380,1000 L385,1060 L430,1130 L520,1160 L620,1160 L700,1130 L760,1050 L770,990 L885,860 L890,760 Z"/>
<path class="k" d="M330,850 L660,920 L885,800"/>
<path class="k" d="M350,960 L660,1000 L770,940"/>
<path class="m" d="M660,920 L660,1000"/>
<path class="k" d="M385,1010 C407.5,1015.8 475.8,1040 520,1045 C564.2,1050 609.2,1048.3 650,1040 C690.8,1031.7 745.8,1002.5 765,995"/>
<ellipse class="k w" cx="568" cy="600" rx="365" ry="285"/>
<path class="k" d="M896.1,652.7 A345,300 0 0 1 239.9,652.7"/>
<path class="t" d="M906.1,591.2 A350,275 0 0 1 229.9,591.2"/>
<ellipse class="k" cx="575" cy="490" rx="270" ry="165"/>
<path class="t" d="M821.2,504 A250,150 0 0 1 328.8,504"/>
<path class="m" d="M689.5,403.5 A120,75 0 1 1 450.5,403.5"/>
<rect x="450" y="290" width="170" height="70" fill="#fff"/>
<circle class="f" cx="525" cy="325" r="46"/>
<path class="m" d="M430,0 L525,325"/>
</g>

<!-- 71_screws -->
<g transform="translate(489.5 1019.5) rotate(36)">
<path class="m w" d="M2,-5.2 L17,-5.2 L17,5.2 L2,5.2 Z"/>
<path class="t" d="M4,-5.2 Q8,0 5.5,5.2"/>
<path class="t" d="M6.6,-5.2 Q10.6,0 8.1,5.2"/>
<path class="t" d="M9.2,-5.2 Q13.2,0 10.7,5.2"/>
<path class="t" d="M11.8,-5.2 Q15.8,0 13.3,5.2"/>
<path class="t" d="M14.4,-5.2 Q18.4,0 15.9,5.2"/>
<ellipse class="k w" cx="0" cy="0" rx="6" ry="9"/>
<path class="t" d="M-2,-3 L1.5,3 M-2.5,2 L2,-2"/>
</g>
<path class="m" d="M502,1031.5 L529.4,1066.3"/>
<g transform="translate(1187.3 1298) rotate(165)">
<path class="m w" d="M2,-5.5 L25,-5.5 L25,5.5 L2,5.5 Z"/>
<path class="t" d="M4,-5.5 Q8,0 5.5,5.5"/>
<path class="t" d="M8.2,-5.5 Q12.2,0 9.7,5.5"/>
<path class="t" d="M12.4,-5.5 Q16.4,0 13.9,5.5"/>
<path class="t" d="M16.6,-5.5 Q20.6,0 18.1,5.5"/>
<path class="t" d="M20.8,-5.5 Q24.8,0 22.3,5.5"/>
<ellipse class="k w" cx="0" cy="0" rx="4.5" ry="9.5"/>
<path class="t" d="M-2,-3 L1.5,3 M-2.5,2 L2,-2"/>
</g>
<path class="m" d="M1161.5,1303 L1105.4,1313.8"/>
<g transform="translate(574.5 1521.5) rotate(-35)">
<path class="m w" d="M2,-5.2 L17,-5.2 L17,5.2 L2,5.2 Z"/>
<path class="t" d="M4,-5.2 Q8,0 5.5,5.2"/>
<path class="t" d="M6.6,-5.2 Q10.6,0 8.1,5.2"/>
<path class="t" d="M9.2,-5.2 Q13.2,0 10.7,5.2"/>
<path class="t" d="M11.8,-5.2 Q15.8,0 13.3,5.2"/>
<path class="t" d="M14.4,-5.2 Q18.4,0 15.9,5.2"/>
<ellipse class="k w" cx="0" cy="0" rx="6.5" ry="9"/>
<path class="t" d="M-2,-3 L1.5,3 M-2.5,2 L2,-2"/>
</g>
<path class="m" d="M589.5,1511 L629.8,1476.9"/>
<ellipse class="m w" cx="787.6" cy="1971" rx="9" ry="4.6"/>
<path class="m" d="M778.6,1973.2 A9,4.6 0 0 0 796.6,1973.2"/>
<ellipse class="t" cx="787.6" cy="1971" rx="4" ry="2"/>
<path class="m w" d="M783.1,1993 L783.1,2010 L792.1,2010 L792.1,1993 Q787.6,1990 783.1,1993 Z"/>
<path class="h" d="M783.1,1996 L792.1,1997.2"/>
<path class="h" d="M783.1,1999 L792.1,2000.2"/>
<path class="h" d="M783.1,2002 L792.1,2003.2"/>
<path class="h" d="M783.1,2005 L792.1,2006.2"/>
<path class="h" d="M783.1,2008 L792.1,2009.2"/>
<path class="k w" d="M779.1,2011 L779.1,2072 L787.6,2075 L796.1,2072 L796.1,2011 L787.6,2008.5 Z"/>
<path class="t" d="M786.1,2010 L786.1,2074"/>
<ellipse class="m w" cx="787.6" cy="2383" rx="9" ry="4.6"/>
<path class="m" d="M778.6,2385.2 A9,4.6 0 0 0 796.6,2385.2"/>
<ellipse class="t" cx="787.6" cy="2383" rx="4" ry="2"/>
<path class="m w" d="M783.1,2409 L783.1,2424 L792.1,2424 L792.1,2409 Z"/>
<path class="h" d="M783.1,2411.5 L792.1,2412.7"/>
<path class="h" d="M783.1,2414.5 L792.1,2415.7"/>
<path class="h" d="M783.1,2417.5 L792.1,2418.7"/>
<path class="h" d="M783.1,2420.5 L792.1,2421.7"/>
<path class="k w" d="M779.1,2427 L779.1,2432 A8.5,5 0 0 0 796.1,2432 L796.1,2427 Z"/>
<ellipse class="m w" cx="787.6" cy="2427" rx="8.5" ry="5"/>


<!-- 80_axes -->
<path d="M787.6,729.5 L787.6,795" stroke="#fff" stroke-width="7" fill="none"/>
<path class="m" style="stroke-width:1.2" d="M787.6,727.5 L787.6,797"/>
<path d="M787.6,827 L787.6,940.5" stroke="#fff" stroke-width="7" fill="none"/>
<path class="m" style="stroke-width:1.2" d="M787.6,825 L787.6,942.5"/>
<path d="M787.6,970 L787.6,1327.7" stroke="#fff" stroke-width="7" fill="none"/>
<path class="m" style="stroke-width:1.2" d="M787.6,968 L787.6,1329.7"/>
<path d="M787.6,1551.6 L787.6,1828.5" stroke="#fff" stroke-width="7" fill="none"/>
<path class="m" style="stroke-width:1.2" d="M787.6,1549.6 L787.6,1830.5"/>
<path class="m" style="stroke-width:1.6" d="M787.6,1956 L787.6,1966"/>
<path class="m" style="stroke-width:1.6" d="M787.6,1976 L787.6,1992"/>
<path d="M787.6,2075.6 L787.6,2263.9" stroke="#fff" stroke-width="7" fill="none"/>
<path class="m" style="stroke-width:1.4" d="M787.6,2073.6 L787.6,2265.9"/>
<path class="m" style="stroke-width:1.6" d="M787.6,2337.3 L787.6,2378"/>
<path class="m" style="stroke-width:1.6" d="M787.6,2388 L787.6,2410"/>
<path class="m" style="stroke-width:1.8" d="M706.7,1328.8 L706.7,1357.4"/>
<path d="M706.7,1530.4 L706.7,1566.8" stroke="#fff" stroke-width="7" fill="none"/>
<path class="m" style="stroke-width:1.8" d="M706.7,1528.4 L706.7,1568.8"/>
<path class="m" style="stroke-width:1.8" d="M754.9,1364.3 L754.9,1422.1"/>
<path class="m" style="stroke-width:1.8" d="M1095.8,1540 L1095.8,1596.5"/>
<path class="m" style="stroke-width:1.8" d="M960.6,1601.3 L960.6,2423.6"/>
<path d="M960.6,2469 L960.6,2807.5" stroke="#fff" stroke-width="7" fill="none"/>
<path class="m" style="stroke-width:1.8" d="M960.6,2467 L960.6,2809.5"/>
<path class="m" style="stroke-width:1.8" d="M960.6,2839 L960.6,2897.5"/>
<path class="m" style="stroke-width:1.8" d="M371.9,1528.3 L371.9,1585"/>
<path class="m" style="stroke-width:1.8;stroke-dasharray:26 8 8 8;stroke-linecap:butt" d="M381,1580 L755.8,1364.3"/>


<!-- 90_labels -->
<text class="lb" x="468" y="945.5">15</text>
<path class="m" style="stroke-width:1.7" d="M491.8,961.2 L491.1,1007"/>
<circle class="f" cx="491.1" cy="1007" r="3.4"/>
<text class="lb" x="1158.2" y="1221.6">15</text>
<path class="m" style="stroke-width:1.7" d="M1182.4,1237.4 L1181.8,1283.2"/>
<circle class="f" cx="1181.8" cy="1283.2" r="3.4"/>
<text class="lb" x="523.2" y="1625.6">15</text>
<path class="m" style="stroke-width:1.7" d="M556,1580 L568.9,1532"/>
<circle class="f" cx="568.9" cy="1532" r="3.4"/>
<text class="lb" x="323.5" y="1398.9">14</text>
<path class="m" style="stroke-width:1.7" d="M355.7,1415.4 L369.2,1463.7"/>
<circle class="f" cx="369.2" cy="1463.7" r="3.4"/>
<text class="lb" x="559.7" y="1719.6">1</text>
<path class="m" style="stroke-width:1.7" d="M602.9,1693.4 L649.7,1679.8"/>
<text class="lb" x="1165.4" y="1603.5">13</text>
<text class="lb" x="464" y="2261.9">2</text>
<text class="lb" x="1081" y="2315.1">3</text>
<path class="m" style="stroke-width:1.7" d="M1067.8,2315.1 L1023.5,2340.8"/>
<circle class="f" cx="1023.5" cy="2340.8" r="3.4"/>
<text class="lb" x="1318.5" y="2133.8">4</text>
<path class="m" style="stroke-width:1.7" d="M1305,2133.8 L1261.6,2158.5"/>
<circle class="f" cx="1261.6" cy="2158.5" r="3.4"/>
<text class="lb" x="1749.5" y="2303.9">5</text>
<path class="m" style="stroke-width:1.7" d="M1734.7,2306.3 L1691.9,2331"/>
<circle class="f" cx="1691.9" cy="2331" r="3.4"/>
<text class="lb" x="1930.4" y="2041.7">6</text>
<path class="m" style="stroke-width:1.7" d="M1916.1,2044.1 L1872.7,2068.3"/>
<circle class="f" cx="1872.7" cy="2068.3" r="3.4"/>
<text class="lb" x="1285" y="1298.3">7</text>
<path class="m" style="stroke-width:1.7" d="M1295.7,1309.1 L1293.2,1362.4"/>
<circle class="f" cx="1293.2" cy="1362.4" r="3.4"/>
<path class="m" style="stroke-width:1.7" d="M1312.9,1309.1 L1337.6,1352.5"/>
<circle class="f" cx="1337.6" cy="1352.5" r="3.4"/>
<text class="lb" x="1416" y="1264.8">8</text>
<path class="m" style="stroke-width:1.7" d="M1447,1272.2 L1481.5,1309.1"/>
<circle class="f" cx="1481.5" cy="1309.1" r="3.4"/>
<text class="lb" x="1657.5" y="1223.4">9</text>
<path class="m" style="stroke-width:1.7" d="M1691,1229.3 L1727,1267.7"/>
<circle class="f" cx="1727" cy="1267.7" r="3.4"/>
<text class="lb" x="1884" y="1538.3">10</text>
<path class="m" style="stroke-width:1.7" d="M1885.6,1496.4 L1856.1,1460"/>
<circle class="f" cx="1856.1" cy="1460" r="3.4"/>
<path class="m" style="stroke-width:1.7" d="M1916.2,1491.5 L1930,1443.7"/>
<circle class="f" cx="1930" cy="1443.7" r="3.4"/>
<text class="lb" x="1574.3" y="1567">11</text>
<path class="m" style="stroke-width:1.7" d="M1574.2,1530.9 L1541.6,1493"/>
<circle class="f" cx="1541.6" cy="1493" r="3.4"/>
<path class="m" style="stroke-width:1.7" d="M1565.3,1562 L1515,1571.8"/>
<circle class="f" cx="1515" cy="1571.8" r="3.4"/>
<text class="lb" x="1597" y="1160.5">12</text>
<path class="m" style="stroke-width:1.7" d="M1598.3,1118.5 L1467.3,940.2"/>
<circle class="f" cx="1467.3" cy="940.2" r="3.4"/>
<path class="m" style="stroke-width:1.7" d="M1614.3,1114.5 L1598.3,998.3"/>
<circle class="f" cx="1598.3" cy="998.3" r="3.4"/>
<path class="m" style="stroke-width:1.7" d="M1636.3,1118.5 L1711.6,1028.3"/>
<circle class="f" cx="1711.6" cy="1028.3" r="3.4"/>
<path class="m" style="stroke-width:1.7" d="M1647.5,1134.5 L1933.5,1015.5"/>
<circle class="f" cx="1933.5" cy="1015.5" r="3.4"/>
<path class="m" style="stroke-width:1.7" d="M1590.3,1134.5 L1541,1115.3"/>
<circle class="f" cx="1541" cy="1115.3" r="3.4"/>
<path class="m" style="stroke-width:1.7" d="M506,2236.3 L555.2,2222.5"/>
<text class="lb" transform="translate(2029.7 3064.8) rotate(-90)">14845</text>


</svg>
</body></html>
